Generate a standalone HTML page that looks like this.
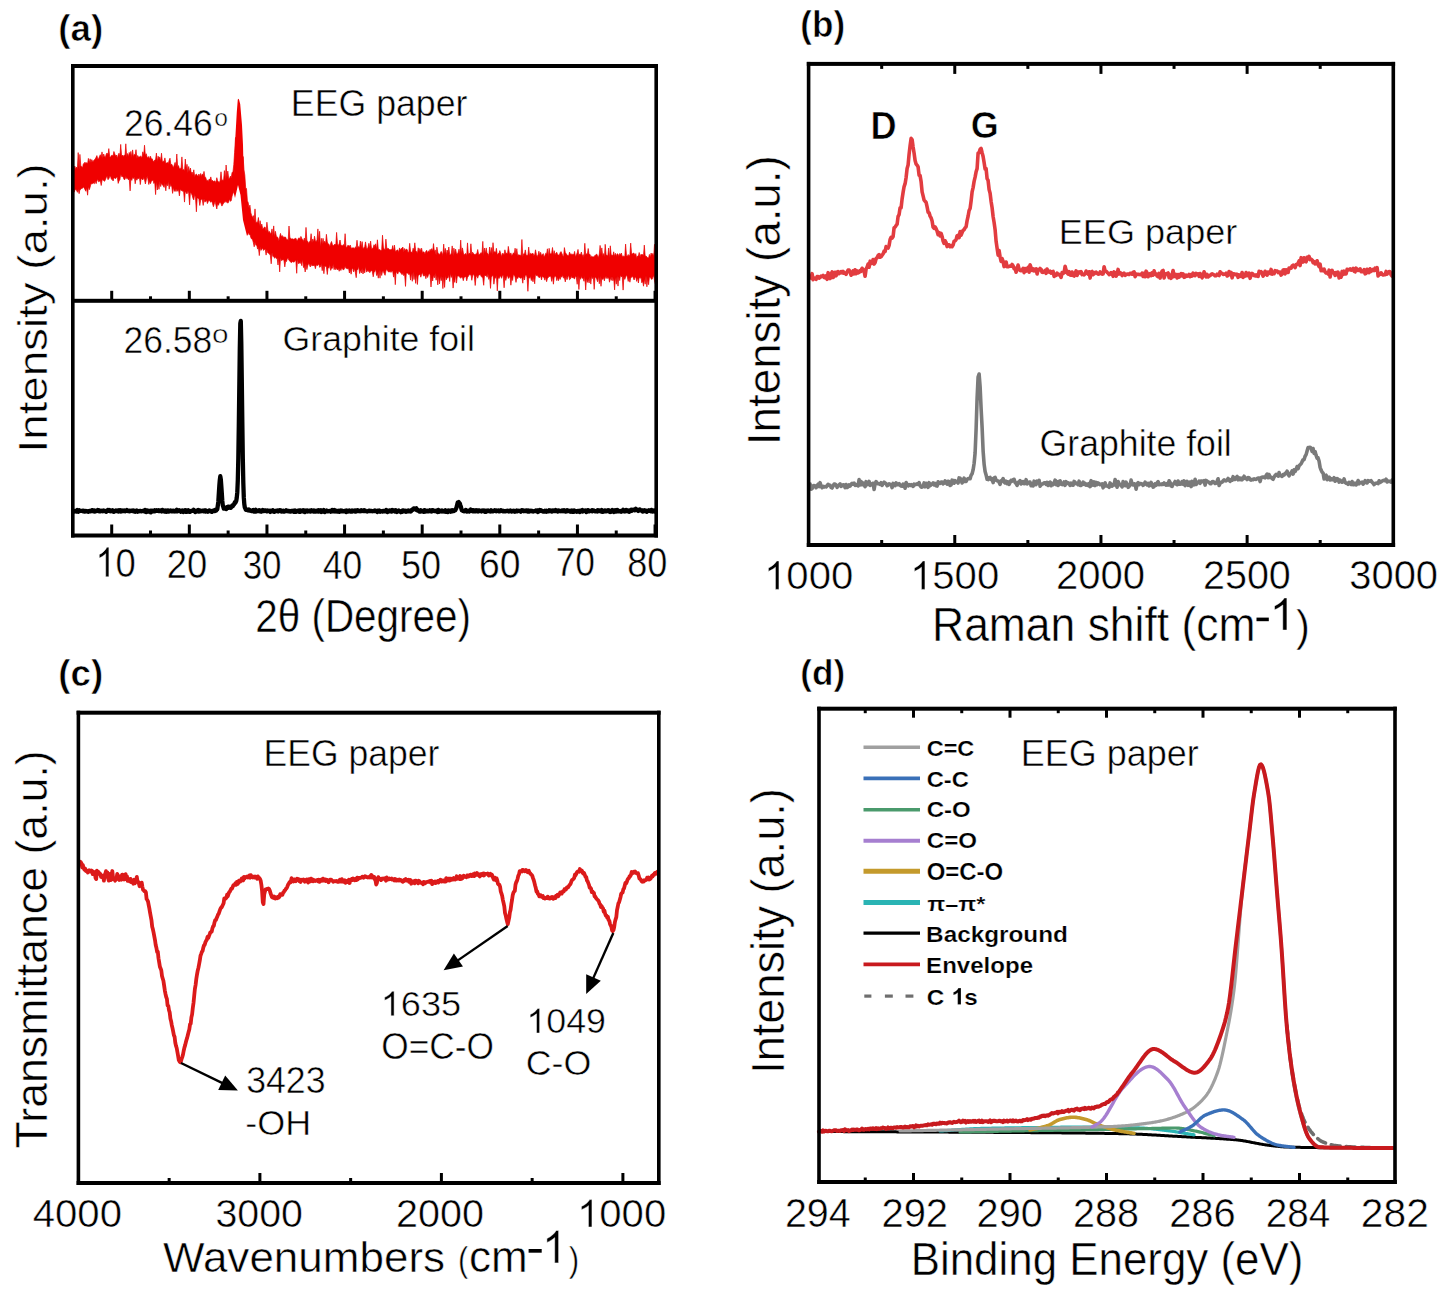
<!DOCTYPE html>
<html><head><meta charset="utf-8"><title>Figure</title>
<style>html,body{margin:0;padding:0;background:#fff;} svg{display:block;} text{font-family:"Liberation Sans",sans-serif;}</style>
</head><body>
<svg width="1451" height="1292" viewBox="0 0 1451 1292">
<rect width="1451" height="1292" fill="#fff"/>
<polygon points="74.0,169.1 74.8,166.0 75.7,169.4 76.5,167.0 77.4,168.9 78.2,152.6 79.1,169.6 79.9,154.4 80.8,165.9 81.6,166.4 82.5,168.0 83.3,163.9 84.2,163.2 85.0,162.2 85.9,163.6 86.7,162.6 87.6,163.8 88.4,158.4 89.3,162.7 90.1,158.8 91.0,162.5 91.8,159.6 92.7,161.8 93.5,161.0 94.4,159.7 95.2,159.0 96.1,157.3 96.9,155.6 97.8,159.1 98.6,158.7 99.5,156.3 100.3,154.7 101.2,157.0 102.0,151.9 102.9,157.9 103.7,154.0 104.6,157.1 105.4,157.2 106.3,154.0 107.1,153.0 108.0,155.1 108.8,148.6 109.7,156.7 110.5,157.3 111.4,155.4 112.2,155.4 113.1,155.8 113.9,151.5 114.8,153.9 115.6,156.1 116.5,155.0 117.3,158.6 118.2,154.9 119.0,153.2 119.9,156.7 120.7,144.4 121.6,155.9 122.4,155.0 123.3,156.9 124.1,155.0 125.0,155.7 125.8,143.8 126.7,157.2 127.5,153.5 128.4,156.8 129.2,152.4 130.1,154.8 130.9,151.4 131.8,157.6 132.6,149.9 133.5,156.7 134.3,154.5 135.2,154.8 136.0,149.7 136.9,158.6 137.7,155.5 138.6,157.3 139.4,156.9 140.3,156.2 141.1,156.4 142.0,157.4 142.8,151.8 143.7,155.6 144.5,145.2 145.4,155.8 146.2,153.7 147.1,157.1 147.9,157.9 148.8,156.4 149.6,159.2 150.5,156.2 151.3,158.9 152.2,158.8 153.0,160.7 153.9,162.0 154.7,160.0 155.6,159.6 156.4,153.1 157.3,161.8 158.1,156.2 159.0,159.1 159.8,156.9 160.7,161.3 161.5,153.2 162.4,162.1 163.2,161.3 164.1,161.4 164.9,157.9 165.8,163.2 166.6,163.1 167.5,162.5 168.3,163.5 169.2,160.2 170.0,158.2 170.9,164.9 171.7,164.1 172.6,166.1 173.4,167.7 174.3,164.8 175.1,162.4 176.0,166.6 176.8,154.0 177.7,167.2 178.5,165.6 179.4,168.8 180.2,168.4 181.1,168.3 181.9,156.9 182.8,169.9 183.6,169.4 184.5,170.9 185.3,159.0 186.2,169.7 187.0,164.3 187.9,173.0 188.7,166.5 189.6,172.1 190.4,168.0 191.3,173.4 192.1,172.0 193.0,174.9 193.8,169.8 194.7,176.7 195.5,174.7 196.4,174.0 197.2,175.6 198.1,176.3 198.9,174.0 199.8,176.7 200.6,173.5 201.5,176.4 202.3,173.9 203.2,175.8 204.0,171.4 204.9,177.2 205.7,177.4 206.6,180.5 207.4,180.2 208.3,181.6 209.1,179.1 210.0,179.8 210.8,176.9 211.7,181.2 212.5,180.3 213.4,181.6 214.2,180.9 215.1,181.3 215.9,182.4 216.8,177.7 217.6,180.7 218.5,181.8 219.3,182.8 220.2,180.3 221.0,171.8 221.9,180.6 222.7,180.0 223.6,180.2 224.4,170.6 225.3,180.2 226.1,165.0 227.0,177.7 227.8,171.1 228.7,178.6 229.5,178.6 230.4,176.1 231.2,178.2 232.1,172.3 232.9,172.4 233.8,164.5 234.6,152.3 235.5,137.4 235.5,166.0 234.6,172.1 233.8,191.5 232.9,193.8 232.1,196.1 231.2,200.8 230.4,201.3 229.5,198.9 228.7,201.9 227.8,203.2 227.0,201.6 226.1,202.5 225.3,200.8 224.4,202.5 223.6,203.0 222.7,204.7 221.9,206.1 221.0,203.6 220.2,202.5 219.3,202.7 218.5,205.3 217.6,203.7 216.8,209.0 215.9,205.0 215.1,201.3 214.2,204.1 213.4,206.7 212.5,203.5 211.7,201.1 210.8,202.2 210.0,201.5 209.1,200.0 208.3,201.5 207.4,203.6 206.6,200.5 205.7,201.1 204.9,202.2 204.0,198.6 203.2,205.4 202.3,199.7 201.5,199.1 200.6,200.6 199.8,205.5 198.9,199.1 198.1,197.9 197.2,198.0 196.4,211.8 195.5,197.8 194.7,194.3 193.8,199.9 193.0,198.4 192.1,195.1 191.3,193.5 190.4,191.9 189.6,204.9 188.7,193.6 187.9,190.7 187.0,193.9 186.2,192.7 185.3,190.9 184.5,202.1 183.6,191.2 182.8,191.3 181.9,190.6 181.1,190.5 180.2,189.6 179.4,195.9 178.5,189.3 177.7,191.3 176.8,189.1 176.0,191.6 175.1,189.2 174.3,191.4 173.4,187.2 172.6,193.4 171.7,185.6 170.9,186.5 170.0,183.5 169.2,189.2 168.3,181.2 167.5,185.8 166.6,183.4 165.8,190.8 164.9,183.0 164.1,187.4 163.2,185.7 162.4,185.0 161.5,183.1 160.7,186.6 159.8,180.9 159.0,189.3 158.1,183.4 157.3,190.0 156.4,180.8 155.6,194.6 154.7,181.7 153.9,183.5 153.0,180.1 152.2,180.6 151.3,181.5 150.5,183.7 149.6,181.3 148.8,184.5 147.9,178.9 147.1,176.3 146.2,180.2 145.4,184.0 144.5,179.8 143.7,177.6 142.8,180.0 142.0,178.9 141.1,178.4 140.3,184.6 139.4,177.0 138.6,178.8 137.7,177.9 136.9,180.2 136.0,178.2 135.2,183.8 134.3,176.7 133.5,178.5 132.6,177.5 131.8,180.4 130.9,178.7 130.1,190.9 129.2,178.3 128.4,179.9 127.5,178.0 126.7,178.7 125.8,176.6 125.0,179.4 124.1,179.6 123.3,177.4 122.4,176.5 121.6,176.6 120.7,174.0 119.9,179.7 119.0,180.9 118.2,183.4 117.3,177.1 116.5,177.3 115.6,178.7 114.8,177.9 113.9,178.0 113.1,181.0 112.2,178.9 111.4,179.3 110.5,176.2 109.7,176.5 108.8,178.8 108.0,179.7 107.1,176.0 106.3,177.5 105.4,179.7 104.6,181.3 103.7,180.7 102.9,179.4 102.0,180.8 101.2,185.5 100.3,180.7 99.5,181.3 98.6,181.8 97.8,179.2 96.9,181.0 96.1,183.7 95.2,180.8 94.4,183.7 93.5,183.0 92.7,183.5 91.8,183.9 91.0,183.6 90.1,187.3 89.3,189.7 88.4,186.4 87.6,195.2 86.7,187.4 85.9,191.3 85.0,189.7 84.2,187.9 83.3,186.9 82.5,188.2 81.6,188.5 80.8,189.3 79.9,189.8 79.1,193.7 78.2,189.2 77.4,192.3 76.5,190.0 75.7,189.4 74.8,190.5 74.0,192.2" fill="#f00000" stroke="#e80000" stroke-width="0.7" stroke-linejoin="round"/>
<polygon points="243.1,156.5 244.0,169.9 244.8,175.1 245.7,188.2 246.5,188.5 247.4,200.9 248.2,202.6 249.1,208.5 249.9,205.1 250.8,212.8 251.6,215.3 252.5,217.7 253.3,215.6 254.2,221.1 255.0,208.9 255.9,222.7 256.7,221.9 257.6,222.5 258.4,217.5 259.3,226.6 260.1,220.7 261.0,226.8 261.8,224.1 262.7,228.7 263.5,228.6 264.4,227.0 265.2,227.2 266.1,231.6 266.9,222.2 267.8,229.7 268.6,232.5 269.5,231.4 270.3,233.7 271.2,233.0 272.0,228.9 272.9,235.9 273.7,225.9 274.6,237.0 275.4,231.3 276.3,236.2 277.1,236.9 278.0,237.5 278.8,241.3 279.7,236.8 280.5,233.4 281.4,237.1 282.2,235.5 283.1,237.4 283.9,236.7 284.8,237.3 285.6,237.1 286.5,239.6 287.3,239.4 288.2,240.2 289.0,226.0 289.9,237.9 290.7,238.3 291.6,239.0 292.4,238.8 293.3,239.3 294.1,239.0 295.0,238.7 295.8,238.1 296.7,240.2 297.5,240.4 298.4,238.3 299.2,237.8 300.1,239.6 300.9,236.4 301.8,238.4 302.6,239.4 303.5,241.4 304.3,238.1 305.2,241.4 306.0,227.4 306.9,240.6 307.7,241.2 308.6,243.5 309.4,241.7 310.3,241.0 311.1,233.7 312.0,242.8 312.8,239.0 313.7,242.2 314.5,236.2 315.4,240.8 316.2,242.0 317.1,239.5 317.9,228.9 318.8,243.1 319.6,231.3 320.5,247.5 321.3,238.3 322.2,244.2 323.0,238.3 323.9,243.0 324.7,241.2 325.6,244.0 326.4,234.3 327.3,241.9 328.1,244.0 329.0,244.2 329.8,247.0 330.7,243.3 331.5,241.5 332.4,244.5 333.2,245.7 334.1,244.9 334.9,244.0 335.8,245.1 336.6,232.4 337.5,243.7 338.3,245.9 339.2,243.5 340.0,240.0 340.9,245.0 341.7,245.6 342.6,245.8 343.4,244.5 344.3,245.9 345.1,233.7 346.0,247.0 346.8,247.6 347.7,245.4 348.5,245.5 349.4,246.6 350.2,245.0 351.1,247.9 351.9,248.3 352.8,247.8 353.6,247.8 354.5,249.1 355.3,246.9 356.2,247.7 357.0,240.2 357.9,248.0 358.7,246.5 359.6,247.8 360.4,241.1 361.3,247.7 362.1,241.6 363.0,248.7 363.8,247.8 364.7,246.7 365.5,241.9 366.4,247.5 367.2,249.5 368.1,247.1 368.9,243.3 369.8,248.4 370.6,241.1 371.5,248.4 372.3,248.6 373.2,247.5 374.0,244.7 374.9,246.4 375.7,243.8 376.6,249.6 377.4,239.8 378.3,249.3 379.1,249.8 380.0,249.6 380.8,250.9 381.7,249.6 382.5,235.2 383.4,247.2 384.2,249.3 385.1,249.9 385.9,239.1 386.8,248.5 387.6,248.4 388.5,248.5 389.3,249.4 390.2,249.9 391.0,249.3 391.9,249.8 392.7,245.6 393.6,251.3 394.4,245.1 395.3,251.3 396.1,251.3 397.0,250.0 397.8,249.9 398.7,252.5 399.5,247.9 400.4,250.2 401.2,248.6 402.1,248.2 402.9,247.0 403.8,252.3 404.6,248.5 405.5,250.6 406.3,249.1 407.2,249.6 408.0,252.4 408.9,251.5 409.7,243.3 410.6,251.6 411.4,252.1 412.3,252.6 413.1,248.2 414.0,250.6 414.8,242.8 415.7,250.9 416.5,251.5 417.4,253.5 418.2,247.8 419.1,251.6 419.9,248.4 420.8,251.5 421.6,248.2 422.5,252.7 423.3,251.8 424.2,252.2 425.0,253.9 425.9,251.3 426.7,250.3 427.6,253.3 428.4,250.9 429.3,251.7 430.1,249.3 431.0,251.1 431.8,248.6 432.7,251.2 433.5,243.6 434.4,252.2 435.2,249.9 436.1,255.2 436.9,247.1 437.8,252.3 438.6,254.1 439.5,254.4 440.3,253.2 441.2,251.4 442.0,252.8 442.9,255.7 443.7,244.1 444.6,254.0 445.4,248.4 446.3,255.4 447.1,250.0 448.0,253.4 448.8,247.0 449.7,254.5 450.5,255.1 451.4,252.9 452.2,245.9 453.1,256.0 453.9,248.1 454.8,254.1 455.6,249.1 456.5,253.8 457.3,254.2 458.2,252.2 459.0,249.2 459.9,254.2 460.7,240.1 461.6,254.1 462.4,247.9 463.3,252.4 464.1,255.3 465.0,253.9 465.8,253.6 466.7,255.8 467.5,242.9 468.4,255.1 469.2,253.1 470.1,254.2 470.9,243.8 471.8,254.7 472.6,252.2 473.5,253.4 474.3,254.6 475.2,254.4 476.0,253.9 476.9,253.4 477.7,249.5 478.6,254.5 479.4,254.4 480.3,253.6 481.1,252.6 482.0,253.6 482.8,241.4 483.7,256.2 484.5,248.1 485.4,253.5 486.2,247.9 487.1,253.5 487.9,253.6 488.8,255.7 489.6,247.0 490.5,254.3 491.3,247.5 492.2,255.0 493.0,242.7 493.9,252.5 494.7,251.6 495.6,252.8 496.4,248.3 497.3,254.9 498.1,253.7 499.0,253.3 499.8,250.6 500.7,253.3 501.5,256.7 502.4,253.5 503.2,253.4 504.1,255.0 504.9,249.8 505.8,253.6 506.6,253.0 507.5,254.2 508.3,246.4 509.2,252.2 510.0,254.6 510.9,252.9 511.7,255.7 512.6,254.5 513.4,252.8 514.3,253.8 515.1,248.2 516.0,255.1 516.8,248.7 517.7,256.1 518.5,254.7 519.4,255.1 520.2,255.2 521.1,255.6 521.9,239.5 522.8,256.7 523.6,253.8 524.5,254.0 525.3,249.9 526.2,255.5 527.0,254.9 527.9,255.5 528.7,247.1 529.6,255.9 530.4,253.2 531.3,253.9 532.1,253.7 533.0,253.3 533.8,255.4 534.7,254.8 535.5,249.8 536.4,254.6 537.2,256.7 538.1,254.8 538.9,251.2 539.8,255.8 540.6,252.3 541.5,255.4 542.3,254.7 543.2,253.6 544.0,256.7 544.9,255.5 545.7,253.3 546.6,254.1 547.4,248.8 548.3,256.9 549.1,248.3 550.0,253.8 550.8,254.0 551.7,252.9 552.5,247.5 553.4,255.5 554.2,250.7 555.1,255.2 555.9,253.1 556.8,252.3 557.6,254.8 558.5,254.9 559.3,255.2 560.2,252.6 561.0,251.6 561.9,253.5 562.7,255.5 563.6,256.7 564.4,247.6 565.3,252.6 566.1,253.6 567.0,254.8 567.8,255.6 568.7,255.8 569.5,252.1 570.4,254.3 571.2,253.9 572.1,254.7 572.9,254.0 573.8,254.7 574.6,251.4 575.5,257.2 576.3,254.7 577.2,252.9 578.0,249.4 578.9,255.8 579.7,254.1 580.6,254.5 581.4,252.0 582.3,256.5 583.1,254.6 584.0,257.4 584.8,243.3 585.7,255.1 586.5,253.7 587.4,254.2 588.2,248.5 589.1,254.7 589.9,254.2 590.8,256.9 591.6,256.2 592.5,256.8 593.3,256.9 594.2,256.6 595.0,255.2 595.9,255.2 596.7,253.9 597.6,256.1 598.4,257.5 599.3,254.1 600.1,245.4 601.0,254.3 601.8,247.9 602.7,255.9 603.5,253.6 604.4,257.3 605.2,244.3 606.1,254.5 606.9,255.3 607.8,255.9 608.6,248.0 609.5,258.6 610.3,245.8 611.2,255.2 612.0,255.0 612.9,255.8 613.7,251.8 614.6,256.6 615.4,253.3 616.3,256.6 617.1,253.8 618.0,254.1 618.8,256.6 619.7,253.5 620.5,254.7 621.4,253.0 622.2,256.7 623.1,255.7 623.9,256.6 624.8,256.5 625.6,244.1 626.5,255.7 627.3,256.3 628.2,254.5 629.0,256.5 629.9,254.8 630.7,243.1 631.6,254.1 632.4,254.0 633.3,253.0 634.1,253.3 635.0,255.6 635.8,253.6 636.7,258.4 637.5,256.1 638.4,256.1 639.2,252.5 640.1,257.3 640.9,254.3 641.8,254.8 642.6,254.5 643.5,255.6 644.3,245.1 645.2,256.3 646.0,255.9 646.9,257.0 647.7,257.7 648.6,257.9 649.4,254.4 650.3,257.2 651.1,253.0 652.0,255.3 652.8,253.4 653.7,256.6 654.5,244.3 655.4,257.8 655.4,284.0 654.5,280.7 653.7,275.2 652.8,277.6 652.0,279.4 651.1,278.8 650.3,277.2 649.4,277.2 648.6,284.7 647.7,278.5 646.9,286.8 646.0,275.8 645.2,284.2 644.3,278.7 643.5,286.2 642.6,280.7 641.8,282.8 640.9,276.8 640.1,278.4 639.2,277.0 638.4,283.0 637.5,277.6 636.7,281.4 635.8,277.1 635.0,277.4 634.1,280.0 633.3,277.8 632.4,276.5 631.6,277.1 630.7,278.0 629.9,282.2 629.0,277.7 628.2,281.4 627.3,276.9 626.5,274.7 625.6,277.3 624.8,279.4 623.9,276.7 623.1,290.1 622.2,276.1 621.4,277.0 620.5,274.9 619.7,280.6 618.8,276.8 618.0,286.1 617.1,276.0 616.3,284.2 615.4,276.7 614.6,289.9 613.7,278.1 612.9,280.8 612.0,276.6 611.2,280.4 610.3,277.5 609.5,282.2 608.6,277.0 607.8,278.6 606.9,276.4 606.1,278.6 605.2,276.0 604.4,280.9 603.5,277.6 602.7,279.5 601.8,278.2 601.0,286.3 600.1,276.3 599.3,283.8 598.4,276.1 597.6,281.8 596.7,279.1 595.9,277.4 595.0,277.0 594.2,289.4 593.3,276.8 592.5,278.6 591.6,276.3 590.8,284.1 589.9,277.1 589.1,283.0 588.2,278.8 587.4,282.4 586.5,277.8 585.7,290.0 584.8,276.1 584.0,281.3 583.1,278.0 582.3,278.3 581.4,276.6 580.6,279.3 579.7,277.0 578.9,289.5 578.0,275.0 577.2,284.3 576.3,277.3 575.5,275.8 574.6,278.9 573.8,278.4 572.9,277.0 572.1,278.1 571.2,276.3 570.4,279.0 569.5,279.8 568.7,274.9 567.8,277.3 567.0,279.7 566.1,276.1 565.3,281.9 564.4,277.7 563.6,278.1 562.7,275.1 561.9,277.3 561.0,275.9 560.2,279.4 559.3,277.2 558.5,280.7 557.6,277.3 556.8,280.7 555.9,275.9 555.1,276.4 554.2,277.0 553.4,284.2 552.5,276.1 551.7,281.4 550.8,276.1 550.0,276.6 549.1,276.3 548.3,277.6 547.4,278.6 546.6,281.7 545.7,276.4 544.9,280.2 544.0,277.5 543.2,277.0 542.3,276.3 541.5,279.9 540.6,275.4 539.8,277.5 538.9,277.5 538.1,276.6 537.2,275.2 536.4,275.7 535.5,273.7 534.7,283.8 533.8,276.7 533.0,281.8 532.1,278.5 531.3,280.6 530.4,276.2 529.6,278.1 528.7,278.0 527.9,291.3 527.0,277.1 526.2,275.1 525.3,275.2 524.5,280.0 523.6,275.5 522.8,283.2 521.9,277.4 521.1,277.9 520.2,278.2 519.4,277.3 518.5,276.7 517.7,278.6 516.8,277.6 516.0,282.4 515.1,277.0 514.3,275.0 513.4,274.7 512.6,280.5 511.7,277.6 510.9,285.2 510.0,276.0 509.2,277.5 508.3,278.5 507.5,275.3 506.6,277.1 505.8,280.4 504.9,276.9 504.1,287.8 503.2,275.6 502.4,275.5 501.5,278.3 500.7,275.7 499.8,276.8 499.0,278.6 498.1,276.9 497.3,290.9 496.4,275.0 495.6,278.1 494.7,278.4 493.9,284.2 493.0,274.9 492.2,275.9 491.3,277.5 490.5,288.4 489.6,276.5 488.8,279.4 487.9,273.4 487.1,277.3 486.2,274.9 485.4,276.0 484.5,275.1 483.7,285.3 482.8,278.1 482.0,277.3 481.1,276.3 480.3,274.4 479.4,274.9 478.6,275.0 477.7,278.2 476.9,275.0 476.0,277.3 475.2,285.5 474.3,276.2 473.5,273.7 472.6,275.9 471.8,280.3 470.9,274.0 470.1,275.3 469.2,274.3 468.4,276.2 467.5,277.4 466.7,280.8 465.8,275.9 465.0,277.2 464.1,276.9 463.3,280.7 462.4,277.0 461.6,277.1 460.7,278.3 459.9,277.1 459.0,276.6 458.2,275.8 457.3,276.2 456.5,283.1 455.6,273.8 454.8,282.4 453.9,278.9 453.1,288.1 452.2,275.3 451.4,277.4 450.5,273.3 449.7,281.5 448.8,274.8 448.0,277.9 447.1,277.7 446.3,279.9 445.4,275.3 444.6,287.4 443.7,275.8 442.9,288.6 442.0,276.2 441.2,280.7 440.3,276.1 439.5,283.9 438.6,275.3 437.8,284.9 436.9,275.0 436.1,280.2 435.2,273.3 434.4,277.8 433.5,275.1 432.7,281.0 431.8,277.4 431.0,287.0 430.1,275.1 429.3,272.9 428.4,275.1 427.6,277.5 426.7,274.4 425.9,278.7 425.0,274.6 424.2,276.1 423.3,275.8 422.5,272.2 421.6,274.6 420.8,277.2 419.9,273.7 419.1,275.0 418.2,275.5 417.4,284.5 416.5,273.0 415.7,283.4 414.8,274.0 414.0,279.6 413.1,271.7 412.3,281.3 411.4,272.5 410.6,280.1 409.7,273.4 408.9,274.7 408.0,273.2 407.2,273.1 406.3,273.0 405.5,286.4 404.6,273.9 403.8,275.7 402.9,272.7 402.1,274.7 401.2,273.5 400.4,272.5 399.5,271.7 398.7,271.2 397.8,274.1 397.0,273.1 396.1,270.9 395.3,284.7 394.4,271.9 393.6,277.1 392.7,271.2 391.9,270.7 391.0,272.4 390.2,271.2 389.3,271.9 388.5,272.0 387.6,270.7 386.8,269.3 385.9,270.9 385.1,275.3 384.2,273.5 383.4,271.6 382.5,271.3 381.7,275.5 380.8,270.4 380.0,278.2 379.1,270.3 378.3,278.2 377.4,273.2 376.6,275.5 375.7,269.0 374.9,271.4 374.0,272.6 373.2,276.8 372.3,271.6 371.5,270.8 370.6,271.1 369.8,272.7 368.9,270.5 368.1,271.7 367.2,270.0 366.4,272.1 365.5,266.3 364.7,272.9 363.8,270.1 363.0,274.0 362.1,268.6 361.3,273.0 360.4,269.9 359.6,273.5 358.7,266.0 357.9,269.6 357.0,269.3 356.2,277.7 355.3,272.3 354.5,268.6 353.6,271.9 352.8,267.8 351.9,269.4 351.1,274.2 350.2,268.9 349.4,273.0 348.5,267.9 347.7,269.0 346.8,268.2 346.0,268.4 345.1,265.9 344.3,268.9 343.4,270.1 342.6,268.9 341.7,267.8 340.9,270.5 340.0,268.5 339.2,271.3 338.3,268.4 337.5,269.9 336.6,267.7 335.8,269.8 334.9,267.1 334.1,269.7 333.2,264.3 332.4,268.3 331.5,268.0 330.7,270.4 329.8,264.2 329.0,268.3 328.1,266.9 327.3,274.5 326.4,267.1 325.6,266.3 324.7,265.9 323.9,273.7 323.0,264.9 322.2,270.7 321.3,263.5 320.5,266.7 319.6,267.3 318.8,263.9 317.9,265.1 317.1,265.8 316.2,264.8 315.4,268.7 314.5,265.1 313.7,266.0 312.8,265.1 312.0,266.1 311.1,263.8 310.3,267.0 309.4,264.6 308.6,263.6 307.7,265.8 306.9,269.6 306.0,263.7 305.2,272.0 304.3,266.0 303.5,267.6 302.6,258.9 301.8,265.7 300.9,261.6 300.1,263.6 299.2,262.7 298.4,263.7 297.5,259.1 296.7,273.3 295.8,259.8 295.0,261.1 294.1,262.2 293.3,261.9 292.4,261.5 291.6,262.6 290.7,262.2 289.9,261.0 289.0,260.4 288.2,258.6 287.3,258.6 286.5,261.5 285.6,261.3 284.8,266.9 283.9,260.1 283.1,259.7 282.2,260.1 281.4,260.7 280.5,257.3 279.7,271.9 278.8,257.5 278.0,265.0 277.1,257.9 276.3,258.6 275.4,256.7 274.6,258.3 273.7,256.3 272.9,256.5 272.0,252.6 271.2,263.8 270.3,255.0 269.5,254.2 268.6,253.3 267.8,252.9 266.9,249.8 266.1,255.1 265.2,249.0 264.4,249.5 263.5,250.4 262.7,248.3 261.8,248.9 261.0,250.4 260.1,246.9 259.3,255.6 258.4,247.4 257.6,249.1 256.7,245.0 255.9,245.3 255.0,242.3 254.2,246.8 253.3,242.5 252.5,239.5 251.6,239.0 250.8,237.6 249.9,233.9 249.1,234.8 248.2,226.6 247.4,223.1 246.5,217.3 245.7,214.5 244.8,202.4 244.0,198.5 243.1,180.2" fill="#f00000" stroke="#e80000" stroke-width="0.7" stroke-linejoin="round"/>
<polygon points="233,190 234.3,171 235.4,136.5 236.8,112 237.8,99.5 238.8,98.7 240.2,104 242,125 243,145 243.6,171 246.5,206 251,229.4 247,236 243,220 240.5,195 238,185 235,198" fill="#f00000"/>
<polyline points="74.30,511.50 74.80,510.98 75.30,510.83 75.80,510.79 76.30,511.66 76.80,511.64 77.30,510.04 77.80,510.58 78.30,511.80 78.80,510.83 79.30,510.39 79.80,511.00 80.30,510.95 80.80,510.95 81.30,510.78 81.80,510.86 82.30,510.79 82.80,511.15 83.30,510.63 83.80,510.87 84.30,510.93 84.80,511.58 85.30,511.17 85.80,510.95 86.30,511.24 86.80,511.18 87.30,511.49 87.80,511.22 88.30,511.80 88.80,511.60 89.30,510.98 89.80,510.81 90.30,511.39 90.80,511.23 91.30,510.95 91.80,510.33 92.30,510.17 92.80,511.15 93.30,511.34 93.80,511.36 94.30,510.42 94.80,511.46 95.30,510.76 95.80,511.17 96.30,511.18 96.80,510.64 97.30,510.73 97.80,510.06 98.30,510.58 98.80,510.19 99.30,511.19 99.80,511.02 100.30,511.41 100.80,511.16 101.30,510.71 101.80,511.15 102.30,510.82 102.80,511.27 103.30,511.14 103.80,510.55 104.30,511.00 104.80,511.02 105.30,510.86 105.80,511.40 106.30,511.77 106.80,510.83 107.30,510.84 107.80,509.98 108.30,510.94 108.80,510.80 109.30,510.02 109.80,511.13 110.30,511.26 110.80,510.67 111.30,510.83 111.80,510.56 112.30,511.34 112.80,510.31 113.30,510.85 113.80,511.87 114.30,511.02 114.80,511.21 115.30,510.93 115.80,510.47 116.30,510.98 116.80,511.18 117.30,510.54 117.80,511.15 118.30,511.56 118.80,511.48 119.30,510.28 119.80,510.56 120.30,510.27 120.80,511.48 121.30,511.27 121.80,511.31 122.30,510.60 122.80,510.47 123.30,511.03 123.80,511.04 124.30,510.61 124.80,511.06 125.30,511.28 125.80,511.10 126.30,510.53 126.80,510.04 127.30,510.88 127.80,511.07 128.30,510.88 128.80,510.80 129.30,510.68 129.80,511.32 130.30,510.97 130.80,511.05 131.30,510.56 131.80,510.71 132.30,511.07 132.80,510.54 133.30,510.43 133.80,510.85 134.30,511.53 134.80,511.08 135.30,511.65 135.80,510.93 136.30,510.85 136.80,510.37 137.30,510.73 137.80,511.64 138.30,511.14 138.80,511.32 139.30,511.31 139.80,510.99 140.30,510.90 140.80,511.05 141.30,511.29 141.80,511.20 142.30,511.21 142.80,511.06 143.30,510.65 143.80,510.87 144.30,510.57 144.80,511.44 145.30,510.05 145.80,510.89 146.30,512.07 146.80,510.84 147.30,510.48 147.80,510.98 148.30,511.57 148.80,510.92 149.30,511.27 149.80,511.04 150.30,510.82 150.80,512.41 151.30,511.02 151.80,510.75 152.30,510.77 152.80,511.16 153.30,511.17 153.80,511.34 154.30,511.05 154.80,510.35 155.30,511.23 155.80,510.85 156.30,510.86 156.80,510.32 157.30,510.73 157.80,510.66 158.30,510.97 158.80,510.33 159.30,511.01 159.80,511.04 160.30,510.48 160.80,510.71 161.30,510.60 161.80,511.40 162.30,509.85 162.80,510.83 163.30,510.24 163.80,510.79 164.30,511.37 164.80,510.70 165.30,511.05 165.80,510.61 166.30,511.86 166.80,511.40 167.30,511.49 167.80,510.39 168.30,510.49 168.80,511.47 169.30,510.90 169.80,510.87 170.30,511.13 170.80,510.42 171.30,511.33 171.80,510.99 172.30,511.20 172.80,510.68 173.30,511.21 173.80,510.67 174.30,511.41 174.80,511.49 175.30,511.39 175.80,511.21 176.30,511.27 176.80,509.76 177.30,511.36 177.80,510.86 178.30,511.02 178.80,510.85 179.30,510.35 179.80,510.74 180.30,511.27 180.80,511.62 181.30,510.70 181.80,510.57 182.30,511.63 182.80,510.58 183.30,511.91 183.80,511.00 184.30,510.58 184.80,511.42 185.30,511.73 185.80,510.33 186.30,511.67 186.80,510.84 187.30,511.64 187.80,510.80 188.30,510.26 188.80,511.19 189.30,511.38 189.80,511.91 190.30,511.74 190.80,511.28 191.30,510.86 191.80,510.73 192.30,510.83 192.80,510.59 193.30,510.84 193.80,509.81 194.30,511.04 194.80,510.94 195.30,512.11 195.80,511.29 196.30,510.74 196.80,511.20 197.30,510.40 197.80,510.68 198.30,510.10 198.80,511.59 199.30,511.21 199.80,510.41 200.30,510.91 200.80,511.36 201.30,511.16 201.80,511.10 202.30,510.54 202.80,510.64 203.30,510.96 203.80,511.33 204.30,510.54 204.80,510.40 205.30,511.42 205.80,510.48 206.30,511.38 206.80,511.00 207.30,511.28 207.80,511.66 208.30,511.18 208.80,511.21 209.30,510.44 209.80,510.53 210.30,511.12 210.80,511.50 211.30,511.42 211.80,511.82 212.30,510.90 212.80,510.82 213.30,511.15 213.80,510.67 214.30,510.59 214.80,510.09 215.30,510.94 215.80,509.90 216.30,510.40 216.80,509.06 217.30,509.07 217.80,505.67 218.30,501.96 218.80,493.94 219.30,486.22 219.80,479.95 220.30,476.23 220.80,479.28 221.30,485.87 221.80,493.11 222.30,501.01 222.80,505.42 223.30,506.95 223.80,508.60 224.30,508.22 224.80,508.09 225.30,508.41 225.80,507.93 226.30,509.09 226.80,507.19 227.30,508.07 227.80,508.06 228.30,506.63 228.80,506.68 229.30,507.67 229.80,507.18 230.30,507.55 230.80,507.84 231.30,507.04 231.80,506.51 232.30,505.41 232.80,506.21 233.30,505.03 233.80,504.78 234.30,503.86 234.80,502.27 235.30,502.88 235.80,501.83 236.30,500.65 236.80,497.41 237.30,492.21 237.80,480.34 238.30,459.02 238.80,426.36 239.30,387.05 239.80,348.35 240.30,323.42 240.80,320.96 241.30,343.63 241.80,380.97 242.30,421.32 242.80,457.67 243.30,482.56 243.80,497.44 244.30,504.13 244.80,507.37 245.30,508.51 245.80,509.67 246.30,509.45 246.80,509.57 247.30,509.65 247.80,510.35 248.30,509.95 248.80,509.52 249.30,510.63 249.80,510.09 250.30,510.62 250.80,510.68 251.30,511.09 251.80,511.06 252.30,510.36 252.80,510.57 253.30,510.09 253.80,511.45 254.30,510.91 254.80,511.36 255.30,510.61 255.80,509.84 256.30,511.47 256.80,510.83 257.30,510.86 257.80,510.84 258.30,511.11 258.80,511.07 259.30,510.13 259.80,511.34 260.30,510.62 260.80,510.65 261.30,511.65 261.80,511.29 262.30,510.73 262.80,510.05 263.30,510.96 263.80,511.14 264.30,510.86 264.80,510.34 265.30,510.55 265.80,510.35 266.30,511.01 266.80,511.29 267.30,511.38 267.80,510.59 268.30,511.03 268.80,511.18 269.30,510.70 269.80,510.87 270.30,511.89 270.80,511.03 271.30,511.34 271.80,510.74 272.30,510.96 272.80,510.17 273.30,510.93 273.80,511.48 274.30,511.89 274.80,511.49 275.30,511.26 275.80,510.98 276.30,510.68 276.80,510.88 277.30,511.23 277.80,510.60 278.30,511.38 278.80,510.52 279.30,510.16 279.80,510.51 280.30,510.21 280.80,510.35 281.30,511.47 281.80,510.88 282.30,511.06 282.80,511.49 283.30,511.53 283.80,510.74 284.30,511.57 284.80,511.14 285.30,510.97 285.80,511.17 286.30,510.33 286.80,510.62 287.30,510.92 287.80,511.25 288.30,510.81 288.80,510.92 289.30,511.41 289.80,511.61 290.30,511.32 290.80,511.55 291.30,510.79 291.80,510.84 292.30,511.12 292.80,510.84 293.30,510.75 293.80,511.72 294.30,510.89 294.80,510.54 295.30,511.20 295.80,511.81 296.30,511.02 296.80,511.54 297.30,510.78 297.80,510.76 298.30,510.67 298.80,510.92 299.30,511.81 299.80,510.46 300.30,511.72 300.80,510.53 301.30,510.88 301.80,511.36 302.30,511.27 302.80,511.11 303.30,510.24 303.80,511.15 304.30,510.52 304.80,512.14 305.30,510.89 305.80,511.07 306.30,510.47 306.80,510.77 307.30,510.41 307.80,511.43 308.30,510.87 308.80,511.24 309.30,510.68 309.80,510.76 310.30,511.57 310.80,510.55 311.30,510.18 311.80,511.17 312.30,510.47 312.80,510.79 313.30,511.40 313.80,510.62 314.30,511.38 314.80,510.68 315.30,511.66 315.80,511.59 316.30,510.78 316.80,510.89 317.30,510.62 317.80,511.08 318.30,511.51 318.80,510.34 319.30,511.40 319.80,510.39 320.30,510.60 320.80,510.19 321.30,511.94 321.80,511.02 322.30,511.10 322.80,510.69 323.30,511.47 323.80,510.04 324.30,511.00 324.80,511.98 325.30,510.82 325.80,511.00 326.30,511.29 326.80,510.63 327.30,511.00 327.80,511.42 328.30,511.08 328.80,511.16 329.30,510.83 329.80,511.13 330.30,511.02 330.80,511.65 331.30,511.32 331.80,510.88 332.30,509.89 332.80,511.31 333.30,511.33 333.80,510.58 334.30,510.09 334.80,510.48 335.30,511.41 335.80,510.51 336.30,510.79 336.80,511.09 337.30,511.54 337.80,510.99 338.30,510.95 338.80,510.75 339.30,511.73 339.80,511.47 340.30,510.95 340.80,510.37 341.30,510.64 341.80,511.25 342.30,510.67 342.80,511.40 343.30,511.16 343.80,511.13 344.30,511.29 344.80,511.22 345.30,510.61 345.80,510.85 346.30,512.05 346.80,510.45 347.30,510.78 347.80,511.47 348.30,510.92 348.80,510.63 349.30,510.40 349.80,511.24 350.30,511.45 350.80,511.62 351.30,511.02 351.80,511.47 352.30,510.53 352.80,511.07 353.30,510.69 353.80,511.07 354.30,511.33 354.80,511.48 355.30,510.55 355.80,511.57 356.30,510.78 356.80,510.53 357.30,510.92 357.80,510.34 358.30,511.00 358.80,511.13 359.30,510.91 359.80,511.24 360.30,510.85 360.80,511.00 361.30,510.35 361.80,511.01 362.30,510.61 362.80,510.79 363.30,510.95 363.80,511.08 364.30,510.25 364.80,510.29 365.30,510.86 365.80,511.21 366.30,511.16 366.80,511.40 367.30,511.58 367.80,511.22 368.30,510.99 368.80,510.53 369.30,510.57 369.80,510.79 370.30,511.12 370.80,511.10 371.30,511.00 371.80,510.93 372.30,511.28 372.80,511.09 373.30,511.13 373.80,511.14 374.30,510.75 374.80,510.53 375.30,511.22 375.80,511.18 376.30,510.90 376.80,510.81 377.30,512.02 377.80,510.66 378.30,510.90 378.80,511.12 379.30,510.48 379.80,511.05 380.30,511.81 380.80,511.42 381.30,511.28 381.80,511.26 382.30,511.05 382.80,511.43 383.30,510.93 383.80,510.81 384.30,511.04 384.80,511.40 385.30,511.15 385.80,511.30 386.30,510.09 386.80,511.53 387.30,512.05 387.80,511.60 388.30,510.85 388.80,510.62 389.30,511.12 389.80,510.55 390.30,511.32 390.80,510.76 391.30,511.43 391.80,511.61 392.30,510.08 392.80,511.13 393.30,510.68 393.80,510.36 394.30,510.72 394.80,510.90 395.30,511.46 395.80,510.31 396.30,511.47 396.80,511.91 397.30,511.27 397.80,511.24 398.30,510.99 398.80,510.47 399.30,511.24 399.80,511.17 400.30,511.33 400.80,512.15 401.30,511.33 401.80,511.19 402.30,511.70 402.80,510.39 403.30,510.48 403.80,510.83 404.30,510.70 404.80,511.31 405.30,510.85 405.80,511.78 406.30,511.68 406.80,511.34 407.30,510.82 407.80,511.27 408.30,511.35 408.80,510.50 409.30,511.11 409.80,511.23 410.30,510.94 410.80,511.43 411.30,511.09 411.80,509.93 412.30,510.05 412.80,509.26 413.30,509.52 413.80,508.52 414.30,509.06 414.80,508.69 415.30,508.96 415.80,508.62 416.30,508.32 416.80,510.13 417.30,509.63 417.80,510.68 418.30,510.55 418.80,510.89 419.30,511.57 419.80,511.01 420.30,511.55 420.80,510.29 421.30,511.37 421.80,510.88 422.30,510.93 422.80,511.00 423.30,511.15 423.80,511.74 424.30,510.16 424.80,511.02 425.30,510.68 425.80,511.52 426.30,510.81 426.80,511.20 427.30,510.82 427.80,511.30 428.30,511.45 428.80,510.82 429.30,511.02 429.80,510.36 430.30,511.14 430.80,511.38 431.30,510.75 431.80,511.50 432.30,510.07 432.80,510.17 433.30,510.37 433.80,510.78 434.30,511.01 434.80,510.96 435.30,510.97 435.80,511.32 436.30,510.79 436.80,510.43 437.30,510.44 437.80,511.95 438.30,509.94 438.80,510.92 439.30,511.65 439.80,511.22 440.30,510.63 440.80,511.00 441.30,511.39 441.80,511.54 442.30,510.59 442.80,511.34 443.30,511.11 443.80,511.50 444.30,511.62 444.80,510.84 445.30,510.35 445.80,511.18 446.30,511.80 446.80,511.31 447.30,511.10 447.80,512.08 448.30,510.53 448.80,511.40 449.30,510.74 449.80,511.02 450.30,511.04 450.80,511.68 451.30,510.58 451.80,510.76 452.30,510.28 452.80,511.21 453.30,510.76 453.80,511.09 454.30,510.27 454.80,510.30 455.30,510.39 455.80,508.97 456.30,508.08 456.80,506.46 457.30,504.37 457.80,502.35 458.30,502.60 458.80,502.15 459.30,503.26 459.80,503.30 460.30,505.14 460.80,506.54 461.30,508.44 461.80,510.25 462.30,510.63 462.80,510.70 463.30,510.94 463.80,511.30 464.30,510.85 464.80,511.17 465.30,511.06 465.80,510.01 466.30,510.83 466.80,511.61 467.30,510.82 467.80,510.93 468.30,510.73 468.80,510.78 469.30,511.50 469.80,510.88 470.30,510.54 470.80,509.60 471.30,510.74 471.80,510.11 472.30,510.18 472.80,511.36 473.30,511.32 473.80,510.14 474.30,511.38 474.80,511.21 475.30,510.65 475.80,511.33 476.30,510.27 476.80,510.46 477.30,510.35 477.80,510.50 478.30,511.39 478.80,510.40 479.30,510.48 479.80,510.57 480.30,511.09 480.80,510.85 481.30,511.39 481.80,510.68 482.30,510.42 482.80,510.77 483.30,511.01 483.80,510.58 484.30,511.12 484.80,511.81 485.30,510.73 485.80,511.02 486.30,511.60 486.80,510.70 487.30,510.61 487.80,510.50 488.30,511.17 488.80,511.22 489.30,510.93 489.80,511.01 490.30,511.56 490.80,511.38 491.30,510.36 491.80,510.99 492.30,511.04 492.80,511.31 493.30,510.89 493.80,510.70 494.30,510.78 494.80,510.19 495.30,510.98 495.80,510.72 496.30,511.20 496.80,510.52 497.30,510.79 497.80,510.54 498.30,510.51 498.80,511.30 499.30,510.77 499.80,511.18 500.30,510.48 500.80,511.03 501.30,510.22 501.80,510.77 502.30,510.76 502.80,511.24 503.30,511.06 503.80,510.90 504.30,511.36 504.80,511.07 505.30,511.22 505.80,511.32 506.30,510.95 506.80,510.85 507.30,511.13 507.80,510.79 508.30,511.15 508.80,511.48 509.30,511.36 509.80,510.81 510.30,510.40 510.80,510.95 511.30,510.92 511.80,511.48 512.30,510.81 512.80,510.88 513.30,511.31 513.80,510.76 514.30,510.91 514.80,511.75 515.30,511.65 515.80,511.26 516.30,511.10 516.80,510.54 517.30,511.23 517.80,511.00 518.30,511.08 518.80,510.75 519.30,510.97 519.80,510.90 520.30,511.12 520.80,511.62 521.30,511.14 521.80,510.23 522.30,510.54 522.80,510.27 523.30,510.62 523.80,511.23 524.30,511.16 524.80,510.71 525.30,511.10 525.80,510.64 526.30,510.34 526.80,510.35 527.30,510.59 527.80,511.62 528.30,510.38 528.80,511.54 529.30,511.57 529.80,510.90 530.30,510.96 530.80,510.70 531.30,510.97 531.80,511.27 532.30,510.98 532.80,511.42 533.30,511.51 533.80,511.13 534.30,511.12 534.80,510.95 535.30,511.13 535.80,510.48 536.30,511.16 536.80,511.07 537.30,510.59 537.80,511.94 538.30,510.54 538.80,510.59 539.30,511.10 539.80,510.11 540.30,510.62 540.80,510.29 541.30,510.54 541.80,510.92 542.30,511.12 542.80,511.47 543.30,511.34 543.80,511.51 544.30,511.24 544.80,510.76 545.30,511.48 545.80,510.76 546.30,510.70 546.80,511.66 547.30,511.33 547.80,511.07 548.30,511.31 548.80,511.37 549.30,510.36 549.80,510.93 550.30,510.44 550.80,511.03 551.30,510.67 551.80,511.59 552.30,511.21 552.80,510.61 553.30,510.97 553.80,510.43 554.30,510.99 554.80,511.22 555.30,511.09 555.80,510.11 556.30,510.82 556.80,511.20 557.30,511.11 557.80,511.50 558.30,510.40 558.80,511.21 559.30,510.68 559.80,511.06 560.30,511.16 560.80,511.28 561.30,510.71 561.80,511.06 562.30,510.45 562.80,510.34 563.30,511.22 563.80,510.95 564.30,510.25 564.80,510.59 565.30,510.98 565.80,511.67 566.30,511.44 566.80,511.33 567.30,510.17 567.80,510.93 568.30,511.19 568.80,511.15 569.30,511.16 569.80,510.87 570.30,511.76 570.80,511.64 571.30,510.93 571.80,510.53 572.30,511.90 572.80,510.72 573.30,511.51 573.80,511.83 574.30,510.55 574.80,511.10 575.30,510.82 575.80,511.20 576.30,511.12 576.80,511.85 577.30,511.24 577.80,510.97 578.30,511.48 578.80,510.85 579.30,510.81 579.80,511.98 580.30,510.60 580.80,510.75 581.30,510.99 581.80,510.50 582.30,510.02 582.80,511.45 583.30,510.62 583.80,510.73 584.30,510.81 584.80,510.53 585.30,510.49 585.80,511.05 586.30,512.05 586.80,511.30 587.30,511.31 587.80,510.30 588.30,510.96 588.80,510.44 589.30,511.32 589.80,510.87 590.30,510.99 590.80,510.93 591.30,510.71 591.80,510.29 592.30,511.23 592.80,510.35 593.30,510.44 593.80,510.84 594.30,510.66 594.80,511.09 595.30,511.43 595.80,511.08 596.30,511.06 596.80,510.98 597.30,511.36 597.80,510.14 598.30,511.14 598.80,510.55 599.30,510.42 599.80,510.98 600.30,510.80 600.80,511.24 601.30,511.47 601.80,509.93 602.30,510.94 602.80,511.85 603.30,511.36 603.80,511.62 604.30,511.02 604.80,510.33 605.30,510.47 605.80,511.29 606.30,511.40 606.80,510.64 607.30,510.85 607.80,511.09 608.30,510.19 608.80,510.82 609.30,511.70 609.80,511.96 610.30,510.92 610.80,511.80 611.30,510.74 611.80,510.61 612.30,509.97 612.80,511.40 613.30,510.80 613.80,512.03 614.30,511.12 614.80,511.06 615.30,510.16 615.80,511.65 616.30,510.81 616.80,510.90 617.30,509.98 617.80,511.39 618.30,511.42 618.80,510.70 619.30,511.02 619.80,511.15 620.30,511.41 620.80,511.02 621.30,511.75 621.80,510.86 622.30,510.70 622.80,510.76 623.30,509.83 623.80,510.61 624.30,511.43 624.80,511.09 625.30,510.60 625.80,511.13 626.30,510.06 626.80,510.83 627.30,511.19 627.80,511.25 628.30,510.57 628.80,511.30 629.30,511.69 629.80,510.61 630.30,511.06 630.80,509.94 631.30,509.65 631.80,510.69 632.30,510.29 632.80,510.22 633.30,509.71 633.80,509.70 634.30,510.06 634.80,510.36 635.30,509.42 635.80,508.74 636.30,510.06 636.80,509.80 637.30,509.92 637.80,509.81 638.30,510.90 638.80,510.04 639.30,510.39 639.80,509.47 640.30,510.18 640.80,510.25 641.30,510.65 641.80,510.90 642.30,510.47 642.80,511.64 643.30,510.42 643.80,510.72 644.30,511.05 644.80,510.39 645.30,511.22 645.80,511.25 646.30,510.84 646.80,511.83 647.30,511.01 647.80,511.10 648.30,510.54 648.80,510.22 649.30,510.69 649.80,510.83 650.30,510.77 650.80,511.32 651.30,509.90 651.80,510.47 652.30,510.15 652.80,511.58 653.30,510.72 653.80,510.74 654.30,510.48 654.80,511.38" fill="none" stroke="#000" stroke-width="4.3" stroke-linejoin="round" stroke-linecap="round"/>
<rect x="71.00" y="64.00" width="587.00" height="4.00" fill="#000"/>
<rect x="71.00" y="533.50" width="587.00" height="4.00" fill="#000"/>
<rect x="71.00" y="64.00" width="3.60" height="473.50" fill="#000"/>
<rect x="654.40" y="64.00" width="3.60" height="473.50" fill="#000"/>
<rect x="72.80" y="298.80" width="583.40" height="4.00" fill="#000"/>
<rect x="110.21" y="524.50" width="3.00" height="11.00" fill="#000"/>
<rect x="110.21" y="290.80" width="3.00" height="10.00" fill="#000"/>
<rect x="187.83" y="524.50" width="3.00" height="11.00" fill="#000"/>
<rect x="187.83" y="290.80" width="3.00" height="10.00" fill="#000"/>
<rect x="265.45" y="524.50" width="3.00" height="11.00" fill="#000"/>
<rect x="265.45" y="290.80" width="3.00" height="10.00" fill="#000"/>
<rect x="343.07" y="524.50" width="3.00" height="11.00" fill="#000"/>
<rect x="343.07" y="290.80" width="3.00" height="10.00" fill="#000"/>
<rect x="420.69" y="524.50" width="3.00" height="11.00" fill="#000"/>
<rect x="420.69" y="290.80" width="3.00" height="10.00" fill="#000"/>
<rect x="498.31" y="524.50" width="3.00" height="11.00" fill="#000"/>
<rect x="498.31" y="290.80" width="3.00" height="10.00" fill="#000"/>
<rect x="575.93" y="524.50" width="3.00" height="11.00" fill="#000"/>
<rect x="575.93" y="290.80" width="3.00" height="10.00" fill="#000"/>
<rect x="653.55" y="524.50" width="3.00" height="11.00" fill="#000"/>
<rect x="653.55" y="290.80" width="3.00" height="10.00" fill="#000"/>
<rect x="149.02" y="530.50" width="3.00" height="5.00" fill="#000"/>
<rect x="149.02" y="296.30" width="3.00" height="4.50" fill="#000"/>
<rect x="226.64" y="530.50" width="3.00" height="5.00" fill="#000"/>
<rect x="226.64" y="296.30" width="3.00" height="4.50" fill="#000"/>
<rect x="304.26" y="530.50" width="3.00" height="5.00" fill="#000"/>
<rect x="304.26" y="296.30" width="3.00" height="4.50" fill="#000"/>
<rect x="381.88" y="530.50" width="3.00" height="5.00" fill="#000"/>
<rect x="381.88" y="296.30" width="3.00" height="4.50" fill="#000"/>
<rect x="459.50" y="530.50" width="3.00" height="5.00" fill="#000"/>
<rect x="459.50" y="296.30" width="3.00" height="4.50" fill="#000"/>
<rect x="537.12" y="530.50" width="3.00" height="5.00" fill="#000"/>
<rect x="537.12" y="296.30" width="3.00" height="4.50" fill="#000"/>
<rect x="614.74" y="530.50" width="3.00" height="5.00" fill="#000"/>
<rect x="614.74" y="296.30" width="3.00" height="4.50" fill="#000"/>
<text transform="translate(58.16,41.26) scale(1.0161,1)" font-size="36.23" font-weight="bold" stroke="#fff" stroke-width="0.6" fill="#000">(a)</text>
<text transform="translate(123.97,136.34) scale(0.9826,1)" font-size="36.16" stroke="#fff" stroke-width="0.5" fill="#000">26.46</text>
<text transform="translate(214.37,125.66) scale(1.0051,1)" font-size="24.45" stroke="#fff" stroke-width="0.5" fill="#000">o</text>
<text transform="translate(290.87,116.00) scale(0.9900,1)" font-size="36.05" stroke="#fff" stroke-width="0.5" fill="#000">EEG paper</text>
<text transform="translate(123.43,352.94) scale(0.9854,1)" font-size="36.02" stroke="#fff" stroke-width="0.5" fill="#000">26.58</text>
<text transform="translate(211.95,343.35) scale(1.1778,1)" font-size="25.18" stroke="#fff" stroke-width="0.5" fill="#000">o</text>
<text transform="translate(282.62,350.50) scale(0.9975,1)" font-size="35.76" stroke="#fff" stroke-width="0.5" fill="#000">Graphite foil</text>
<g transform="translate(95.32,576.79) scale(0.8848,1)" fill="#000">
<text font-size="41.17" stroke="#fff" stroke-width="0.5" xml:space="preserve"> 0</text>
<path transform="translate(0.000,0) scale(0.02010)" d="M763 0L583 0L583 -1147Q518 -1085 413 -1023Q308 -961 224 -930L224 -1104Q375 -1175 488 -1276Q601 -1377 648 -1472L763 -1472Z" stroke="#fff" stroke-width="24.87"/>
</g>
<text transform="translate(166.78,577.79) scale(0.8908,1)" font-size="40.82" stroke="#fff" stroke-width="0.5" fill="#000">20</text>
<text transform="translate(242.67,578.89) scale(0.8539,1)" font-size="40.96" stroke="#fff" stroke-width="0.5" fill="#000">30</text>
<text transform="translate(322.79,578.89) scale(0.8649,1)" font-size="40.96" stroke="#fff" stroke-width="0.5" fill="#000">40</text>
<text transform="translate(400.96,578.50) scale(0.8915,1)" font-size="40.40" stroke="#fff" stroke-width="0.5" fill="#000">50</text>
<text transform="translate(479.09,577.79) scale(0.9157,1)" font-size="40.82" stroke="#fff" stroke-width="0.5" fill="#000">60</text>
<text transform="translate(555.70,575.79) scale(0.8624,1)" font-size="40.96" stroke="#fff" stroke-width="0.5" fill="#000">70</text>
<text transform="translate(627.25,576.78) scale(0.8523,1)" font-size="42.37" stroke="#fff" stroke-width="0.5" fill="#000">80</text>
<text transform="translate(255.18,632.40) scale(0.8673,1)" font-size="46.66" stroke="#fff" stroke-width="0.5" fill="#000">2θ (Degree)</text>
<text transform="translate(47.10,452.40) rotate(-90) scale(1.1020,1)" font-size="41.42" stroke="#fff" stroke-width="0.5" fill="#000">Intensity (a.u.)</text>
<polyline points="810.10,276.99 811.10,278.08 812.10,273.68 813.10,279.66 814.10,278.07 815.10,278.26 816.10,279.44 817.10,276.61 818.10,276.55 819.10,278.12 820.10,277.45 821.10,276.05 822.10,276.48 823.10,275.32 824.10,277.51 825.10,277.80 826.10,275.90 827.10,279.33 828.10,272.69 829.10,275.03 830.10,278.59 831.10,274.38 832.10,271.99 833.10,277.53 834.10,275.76 835.10,272.29 836.10,275.88 837.10,272.30 838.10,271.54 839.10,273.65 840.10,272.87 841.10,271.54 842.10,272.78 843.10,271.41 844.10,273.29 845.10,272.99 846.10,274.31 847.10,271.90 848.10,270.11 849.10,270.03 850.10,271.97 851.10,275.27 852.10,273.86 853.10,270.92 854.10,273.83 855.10,269.71 856.10,273.72 857.10,270.92 858.10,272.95 859.10,272.48 860.10,270.56 861.10,271.41 862.10,268.33 863.10,269.68 864.10,271.26 865.10,276.29 866.10,269.06 867.10,267.07 868.10,264.12 869.10,267.21 870.10,261.17 871.10,261.94 872.10,263.33 873.10,259.57 874.10,264.05 875.10,262.45 876.10,258.54 877.10,257.81 878.10,255.57 879.10,254.60 880.10,257.24 881.10,256.66 882.10,255.14 883.10,253.89 884.10,251.14 885.10,251.59 886.10,246.49 887.10,247.40 888.10,248.03 889.10,245.41 890.10,239.55 891.10,237.30 892.10,238.08 893.10,236.44 894.10,227.71 895.10,227.14 896.10,225.54 897.10,224.18 898.10,216.36 899.10,214.53 900.10,207.69 901.10,207.74 902.10,198.85 903.10,192.40 904.10,186.53 905.10,183.69 906.10,177.53 907.10,168.55 908.10,165.01 909.10,154.13 910.10,145.63 911.10,138.38 912.10,139.55 913.10,146.91 914.10,153.22 915.10,160.41 916.10,164.12 917.10,165.16 918.10,166.98 919.10,175.32 920.10,175.58 921.10,181.59 922.10,191.88 923.10,195.88 924.10,200.16 925.10,201.26 926.10,202.44 927.10,206.96 928.10,212.13 929.10,212.80 930.10,216.13 931.10,217.86 932.10,221.03 933.10,227.13 934.10,228.30 935.10,226.95 936.10,228.69 937.10,231.15 938.10,234.63 939.10,232.66 940.10,235.84 941.10,233.37 942.10,236.47 943.10,241.11 944.10,243.42 945.10,240.80 946.10,242.67 947.10,246.58 948.10,244.92 949.10,244.88 950.10,246.76 951.10,245.67 952.10,246.66 953.10,245.07 954.10,241.29 955.10,240.89 956.10,239.65 957.10,235.80 958.10,235.20 959.10,237.65 960.10,231.54 961.10,235.22 962.10,232.52 963.10,230.22 964.10,229.81 965.10,227.72 966.10,226.83 967.10,220.60 968.10,216.24 969.10,210.53 970.10,208.53 971.10,200.91 972.10,191.95 973.10,187.62 974.10,181.39 975.10,177.18 976.10,171.82 977.10,168.60 978.10,153.24 979.10,152.78 980.10,149.25 981.10,148.34 982.10,152.66 983.10,156.50 984.10,162.53 985.10,169.04 986.10,168.64 987.10,178.70 988.10,180.49 989.10,189.45 990.10,193.22 991.10,201.52 992.10,207.77 993.10,216.57 994.10,222.44 995.10,229.63 996.10,241.28 997.10,248.30 998.10,255.09 999.10,250.63 1000.10,256.88 1001.10,261.46 1002.10,258.54 1003.10,261.39 1004.10,266.58 1005.10,265.84 1006.10,261.97 1007.10,266.79 1008.10,266.72 1009.10,266.32 1010.10,265.95 1011.10,266.11 1012.10,264.49 1013.10,265.75 1014.10,268.77 1015.10,268.30 1016.10,272.18 1017.10,268.57 1018.10,265.06 1019.10,269.25 1020.10,270.47 1021.10,270.66 1022.10,270.03 1023.10,268.29 1024.10,272.65 1025.10,268.49 1026.10,271.05 1027.10,269.09 1028.10,267.30 1029.10,272.22 1030.10,264.72 1031.10,267.84 1032.10,270.27 1033.10,268.78 1034.10,270.95 1035.10,269.43 1036.10,268.89 1037.10,274.03 1038.10,269.69 1039.10,270.02 1040.10,268.50 1041.10,269.38 1042.10,272.29 1043.10,272.38 1044.10,271.57 1045.10,270.48 1046.10,273.35 1047.10,269.02 1048.10,271.81 1049.10,272.15 1050.10,271.17 1051.10,273.17 1052.10,271.68 1053.10,271.44 1054.10,276.39 1055.10,274.37 1056.10,275.24 1057.10,273.05 1058.10,274.78 1059.10,274.43 1060.10,275.24 1061.10,277.43 1062.10,272.49 1063.10,273.40 1064.10,272.79 1065.10,266.20 1066.10,270.21 1067.10,272.89 1068.10,274.04 1069.10,271.73 1070.10,274.96 1071.10,275.23 1072.10,271.99 1073.10,275.46 1074.10,276.07 1075.10,273.60 1076.10,270.84 1077.10,275.48 1078.10,272.36 1079.10,271.94 1080.10,272.86 1081.10,271.60 1082.10,274.65 1083.10,274.07 1084.10,274.90 1085.10,273.67 1086.10,271.05 1087.10,272.24 1088.10,274.20 1089.10,271.75 1090.10,278.07 1091.10,272.05 1092.10,271.39 1093.10,274.69 1094.10,273.92 1095.10,272.45 1096.10,272.06 1097.10,273.32 1098.10,274.11 1099.10,273.98 1100.10,271.97 1101.10,273.39 1102.10,274.19 1103.10,274.07 1104.10,266.78 1105.10,270.99 1106.10,271.24 1107.10,272.31 1108.10,273.13 1109.10,274.58 1110.10,274.05 1111.10,272.68 1112.10,273.01 1113.10,276.36 1114.10,271.90 1115.10,273.70 1116.10,276.15 1117.10,273.88 1118.10,269.40 1119.10,274.05 1120.10,272.66 1121.10,273.24 1122.10,275.51 1123.10,274.47 1124.10,273.13 1125.10,275.39 1126.10,274.58 1127.10,274.02 1128.10,274.45 1129.10,274.42 1130.10,273.35 1131.10,273.18 1132.10,274.16 1133.10,272.36 1134.10,271.84 1135.10,276.76 1136.10,273.88 1137.10,274.35 1138.10,274.19 1139.10,274.54 1140.10,274.59 1141.10,274.71 1142.10,273.11 1143.10,276.45 1144.10,273.41 1145.10,276.73 1146.10,271.15 1147.10,272.81 1148.10,276.75 1149.10,274.61 1150.10,273.64 1151.10,275.65 1152.10,272.97 1153.10,275.12 1154.10,270.78 1155.10,274.13 1156.10,273.76 1157.10,276.03 1158.10,276.66 1159.10,273.38 1160.10,278.06 1161.10,273.87 1162.10,271.09 1163.10,270.48 1164.10,277.92 1165.10,274.83 1166.10,273.77 1167.10,273.57 1168.10,272.92 1169.10,277.56 1170.10,274.83 1171.10,278.39 1172.10,274.61 1173.10,270.52 1174.10,276.59 1175.10,274.28 1176.10,274.53 1177.10,277.96 1178.10,274.48 1179.10,277.18 1180.10,274.96 1181.10,273.54 1182.10,275.93 1183.10,273.82 1184.10,277.29 1185.10,276.78 1186.10,275.07 1187.10,276.11 1188.10,276.02 1189.10,274.42 1190.10,276.64 1191.10,274.51 1192.10,276.10 1193.10,273.12 1194.10,275.12 1195.10,275.71 1196.10,273.42 1197.10,274.13 1198.10,273.90 1199.10,276.29 1200.10,273.54 1201.10,275.74 1202.10,277.80 1203.10,275.57 1204.10,271.83 1205.10,275.13 1206.10,276.86 1207.10,274.34 1208.10,276.98 1209.10,276.04 1210.10,275.67 1211.10,274.36 1212.10,273.88 1213.10,274.36 1214.10,274.97 1215.10,275.83 1216.10,275.63 1217.10,274.26 1218.10,274.95 1219.10,275.56 1220.10,271.73 1221.10,273.35 1222.10,273.28 1223.10,274.40 1224.10,274.25 1225.10,274.27 1226.10,273.08 1227.10,276.00 1228.10,275.23 1229.10,271.56 1230.10,274.69 1231.10,272.50 1232.10,277.85 1233.10,273.72 1234.10,273.82 1235.10,274.69 1236.10,274.13 1237.10,274.37 1238.10,277.38 1239.10,274.84 1240.10,275.97 1241.10,276.49 1242.10,272.46 1243.10,277.48 1244.10,275.54 1245.10,276.01 1246.10,272.52 1247.10,275.67 1248.10,274.86 1249.10,273.01 1250.10,278.33 1251.10,275.02 1252.10,273.45 1253.10,274.23 1254.10,275.54 1255.10,275.92 1256.10,274.83 1257.10,275.99 1258.10,276.42 1259.10,271.23 1260.10,272.61 1261.10,271.70 1262.10,273.62 1263.10,276.12 1264.10,274.57 1265.10,271.28 1266.10,272.65 1267.10,275.10 1268.10,272.07 1269.10,272.82 1270.10,273.51 1271.10,269.39 1272.10,274.25 1273.10,273.33 1274.10,273.66 1275.10,270.62 1276.10,270.91 1277.10,271.12 1278.10,272.61 1279.10,272.14 1280.10,272.11 1281.10,275.13 1282.10,274.02 1283.10,269.94 1284.10,269.77 1285.10,273.94 1286.10,269.71 1287.10,272.52 1288.10,272.50 1289.10,267.97 1290.10,268.01 1291.10,268.18 1292.10,265.88 1293.10,265.15 1294.10,265.73 1295.10,267.61 1296.10,264.58 1297.10,264.42 1298.10,263.26 1299.10,260.87 1300.10,265.60 1301.10,257.67 1302.10,260.28 1303.10,262.05 1304.10,257.80 1305.10,261.04 1306.10,261.75 1307.10,257.29 1308.10,259.03 1309.10,256.43 1310.10,259.63 1311.10,259.15 1312.10,259.86 1313.10,262.62 1314.10,261.59 1315.10,263.95 1316.10,263.31 1317.10,260.76 1318.10,264.74 1319.10,266.52 1320.10,264.19 1321.10,270.69 1322.10,269.25 1323.10,270.66 1324.10,269.10 1325.10,271.77 1326.10,272.99 1327.10,272.50 1328.10,273.86 1329.10,270.14 1330.10,277.04 1331.10,272.42 1332.10,270.38 1333.10,272.66 1334.10,272.84 1335.10,275.38 1336.10,272.51 1337.10,274.67 1338.10,272.18 1339.10,278.05 1340.10,274.73 1341.10,277.25 1342.10,271.42 1343.10,274.42 1344.10,271.15 1345.10,273.87 1346.10,273.86 1347.10,269.34 1348.10,270.00 1349.10,269.74 1350.10,268.90 1351.10,270.17 1352.10,269.54 1353.10,268.43 1354.10,271.19 1355.10,271.87 1356.10,268.18 1357.10,269.48 1358.10,270.42 1359.10,269.85 1360.10,268.87 1361.10,271.66 1362.10,271.68 1363.10,271.33 1364.10,269.63 1365.10,273.81 1366.10,273.38 1367.10,269.36 1368.10,269.96 1369.10,272.54 1370.10,268.86 1371.10,271.26 1372.10,270.72 1373.10,269.44 1374.10,270.49 1375.10,268.11 1376.10,270.23 1377.10,267.65 1378.10,275.96 1379.10,274.68 1380.10,274.35 1381.10,272.78 1382.10,274.30 1383.10,275.02 1384.10,274.73 1385.10,274.74 1386.10,271.45 1387.10,274.18 1388.10,272.53 1389.10,271.47 1390.10,271.71 1391.10,274.84 1392.10,276.17" fill="none" stroke="#e23c40" stroke-width="3.6" stroke-linejoin="round" stroke-linecap="round"/>
<polyline points="810.10,484.18 811.10,489.13 812.10,488.65 813.10,485.65 814.10,485.48 815.10,486.06 816.10,487.70 817.10,485.48 818.10,484.28 819.10,486.56 820.10,482.66 821.10,486.14 822.10,487.73 823.10,486.32 824.10,487.03 825.10,486.52 826.10,486.85 827.10,485.87 828.10,484.27 829.10,485.19 830.10,485.39 831.10,487.47 832.10,488.01 833.10,486.04 834.10,484.12 835.10,484.11 836.10,484.93 837.10,487.41 838.10,485.68 839.10,485.01 840.10,483.84 841.10,486.43 842.10,485.44 843.10,484.86 844.10,485.07 845.10,487.56 846.10,484.57 847.10,487.49 848.10,486.74 849.10,484.81 850.10,486.10 851.10,484.46 852.10,483.30 853.10,484.17 854.10,483.12 855.10,485.37 856.10,484.55 857.10,485.42 858.10,485.81 859.10,479.48 860.10,484.95 861.10,481.56 862.10,484.69 863.10,483.01 864.10,484.58 865.10,486.59 866.10,481.67 867.10,484.71 868.10,484.27 869.10,481.37 870.10,485.44 871.10,484.45 872.10,483.59 873.10,483.25 874.10,489.54 875.10,483.77 876.10,481.52 877.10,482.91 878.10,483.81 879.10,483.78 880.10,484.27 881.10,482.72 882.10,485.27 883.10,483.63 884.10,482.22 885.10,483.10 886.10,483.78 887.10,485.76 888.10,485.18 889.10,483.86 890.10,484.43 891.10,484.74 892.10,487.66 893.10,483.41 894.10,485.15 895.10,485.56 896.10,482.88 897.10,484.70 898.10,484.66 899.10,483.65 900.10,485.31 901.10,486.05 902.10,486.21 903.10,484.09 904.10,484.70 905.10,488.16 906.10,482.63 907.10,484.75 908.10,485.82 909.10,484.64 910.10,485.45 911.10,484.68 912.10,485.61 913.10,486.45 914.10,484.05 915.10,484.72 916.10,484.31 917.10,483.75 918.10,484.37 919.10,482.59 920.10,485.59 921.10,487.12 922.10,487.13 923.10,486.44 924.10,482.86 925.10,486.83 926.10,483.26 927.10,484.32 928.10,487.35 929.10,482.68 930.10,485.74 931.10,484.83 932.10,484.11 933.10,482.92 934.10,484.96 935.10,483.50 936.10,485.86 937.10,486.08 938.10,481.85 939.10,483.18 940.10,483.40 941.10,481.94 942.10,481.96 943.10,483.80 944.10,483.24 945.10,480.83 946.10,482.52 947.10,484.11 948.10,481.26 949.10,481.61 950.10,485.53 951.10,485.00 952.10,480.20 953.10,480.54 954.10,483.20 955.10,480.58 956.10,481.97 957.10,481.53 958.10,483.00 959.10,477.91 960.10,478.26 961.10,479.63 962.10,483.00 963.10,480.90 964.10,478.15 965.10,481.38 966.10,481.40 967.10,479.44 968.10,478.59 969.10,478.80 970.10,478.68 971.10,475.28 972.10,473.80 973.10,469.92 974.10,463.46 975.10,452.96 976.10,429.24 977.10,398.13 978.10,377.05 979.10,374.00 980.10,386.60 981.10,408.52 982.10,427.46 983.10,450.76 984.10,464.12 985.10,471.55 986.10,474.91 987.10,479.35 988.10,479.57 989.10,477.68 990.10,477.40 991.10,479.52 992.10,479.00 993.10,482.60 994.10,477.81 995.10,477.41 996.10,480.10 997.10,480.69 998.10,481.03 999.10,482.16 1000.10,484.40 1001.10,480.65 1002.10,480.44 1003.10,478.59 1004.10,481.89 1005.10,482.95 1006.10,481.25 1007.10,483.62 1008.10,481.85 1009.10,484.28 1010.10,482.45 1011.10,480.28 1012.10,481.00 1013.10,479.62 1014.10,479.34 1015.10,482.59 1016.10,483.61 1017.10,485.39 1018.10,482.22 1019.10,481.98 1020.10,480.63 1021.10,484.03 1022.10,483.12 1023.10,481.59 1024.10,483.69 1025.10,483.53 1026.10,479.68 1027.10,483.90 1028.10,482.98 1029.10,482.17 1030.10,482.17 1031.10,485.68 1032.10,485.38 1033.10,485.88 1034.10,481.16 1035.10,481.99 1036.10,484.53 1037.10,481.18 1038.10,482.00 1039.10,480.31 1040.10,486.19 1041.10,484.96 1042.10,484.03 1043.10,483.69 1044.10,482.70 1045.10,482.77 1046.10,484.42 1047.10,482.33 1048.10,485.47 1049.10,482.74 1050.10,482.17 1051.10,485.67 1052.10,483.39 1053.10,484.54 1054.10,483.02 1055.10,480.11 1056.10,484.62 1057.10,481.61 1058.10,485.53 1059.10,481.34 1060.10,480.86 1061.10,484.36 1062.10,484.58 1063.10,484.09 1064.10,482.00 1065.10,485.39 1066.10,481.65 1067.10,483.27 1068.10,482.77 1069.10,483.45 1070.10,485.44 1071.10,483.08 1072.10,485.01 1073.10,485.24 1074.10,481.41 1075.10,482.30 1076.10,483.57 1077.10,483.25 1078.10,484.70 1079.10,481.14 1080.10,485.39 1081.10,485.45 1082.10,484.00 1083.10,482.07 1084.10,484.30 1085.10,483.44 1086.10,485.22 1087.10,484.19 1088.10,485.50 1089.10,483.65 1090.10,486.66 1091.10,480.67 1092.10,482.74 1093.10,485.16 1094.10,481.96 1095.10,485.56 1096.10,482.44 1097.10,484.54 1098.10,482.93 1099.10,483.69 1100.10,484.68 1101.10,484.23 1102.10,483.79 1103.10,487.84 1104.10,484.41 1105.10,482.85 1106.10,485.88 1107.10,485.71 1108.10,486.35 1109.10,487.25 1110.10,482.89 1111.10,486.08 1112.10,486.21 1113.10,484.38 1114.10,484.77 1115.10,479.57 1116.10,483.45 1117.10,487.23 1118.10,481.50 1119.10,483.50 1120.10,484.81 1121.10,485.27 1122.10,486.95 1123.10,481.51 1124.10,484.40 1125.10,485.70 1126.10,482.21 1127.10,484.24 1128.10,487.31 1129.10,486.39 1130.10,485.14 1131.10,480.09 1132.10,484.05 1133.10,484.87 1134.10,483.75 1135.10,484.13 1136.10,489.15 1137.10,483.86 1138.10,482.64 1139.10,484.57 1140.10,483.67 1141.10,483.66 1142.10,484.01 1143.10,485.37 1144.10,484.50 1145.10,482.18 1146.10,483.88 1147.10,484.84 1148.10,483.31 1149.10,485.88 1150.10,485.27 1151.10,482.43 1152.10,484.51 1153.10,487.15 1154.10,486.46 1155.10,483.86 1156.10,485.36 1157.10,482.83 1158.10,481.57 1159.10,484.76 1160.10,484.25 1161.10,484.65 1162.10,483.77 1163.10,484.31 1164.10,482.95 1165.10,484.51 1166.10,485.06 1167.10,483.61 1168.10,484.98 1169.10,480.82 1170.10,482.38 1171.10,485.92 1172.10,486.41 1173.10,483.96 1174.10,483.37 1175.10,481.48 1176.10,484.07 1177.10,484.71 1178.10,481.06 1179.10,484.30 1180.10,484.17 1181.10,484.06 1182.10,481.52 1183.10,484.16 1184.10,480.87 1185.10,485.62 1186.10,483.42 1187.10,481.32 1188.10,485.30 1189.10,484.96 1190.10,482.04 1191.10,486.58 1192.10,481.41 1193.10,483.49 1194.10,484.85 1195.10,479.29 1196.10,484.49 1197.10,482.75 1198.10,482.80 1199.10,481.06 1200.10,483.28 1201.10,480.94 1202.10,481.13 1203.10,481.92 1204.10,480.64 1205.10,485.08 1206.10,480.40 1207.10,481.28 1208.10,481.94 1209.10,482.42 1210.10,483.64 1211.10,483.64 1212.10,481.81 1213.10,481.64 1214.10,482.27 1215.10,483.48 1216.10,483.24 1217.10,481.26 1218.10,478.74 1219.10,485.42 1220.10,483.46 1221.10,482.28 1222.10,482.30 1223.10,480.80 1224.10,479.90 1225.10,480.82 1226.10,480.84 1227.10,480.03 1228.10,478.52 1229.10,480.17 1230.10,481.41 1231.10,479.51 1232.10,480.16 1233.10,476.63 1234.10,479.44 1235.10,479.41 1236.10,477.48 1237.10,476.53 1238.10,479.83 1239.10,477.76 1240.10,479.74 1241.10,478.20 1242.10,479.79 1243.10,478.17 1244.10,476.23 1245.10,478.44 1246.10,477.98 1247.10,479.50 1248.10,477.67 1249.10,477.70 1250.10,479.65 1251.10,480.09 1252.10,479.39 1253.10,479.78 1254.10,478.80 1255.10,479.26 1256.10,479.38 1257.10,478.57 1258.10,477.97 1259.10,478.04 1260.10,481.61 1261.10,477.72 1262.10,477.26 1263.10,476.99 1264.10,477.45 1265.10,477.82 1266.10,475.54 1267.10,474.10 1268.10,477.66 1269.10,474.52 1270.10,477.40 1271.10,477.11 1272.10,478.62 1273.10,479.33 1274.10,477.13 1275.10,475.53 1276.10,474.40 1277.10,474.87 1278.10,476.05 1279.10,472.51 1280.10,475.77 1281.10,475.45 1282.10,476.30 1283.10,474.52 1284.10,475.00 1285.10,473.42 1286.10,473.60 1287.10,471.23 1288.10,473.98 1289.10,475.95 1290.10,473.41 1291.10,473.39 1292.10,470.83 1293.10,474.13 1294.10,469.89 1295.10,471.54 1296.10,469.45 1297.10,466.65 1298.10,468.65 1299.10,465.77 1300.10,464.72 1301.10,463.79 1302.10,461.65 1303.10,459.67 1304.10,459.59 1305.10,456.24 1306.10,454.62 1307.10,451.03 1308.10,447.59 1309.10,447.41 1310.10,447.21 1311.10,448.51 1312.10,451.51 1313.10,448.53 1314.10,453.33 1315.10,451.58 1316.10,455.35 1317.10,458.22 1318.10,457.92 1319.10,461.32 1320.10,467.40 1321.10,470.02 1322.10,472.16 1323.10,473.01 1324.10,478.99 1325.10,475.82 1326.10,475.14 1327.10,479.62 1328.10,478.32 1329.10,477.13 1330.10,480.00 1331.10,478.69 1332.10,479.80 1333.10,479.46 1334.10,477.73 1335.10,481.21 1336.10,480.17 1337.10,478.54 1338.10,479.17 1339.10,482.13 1340.10,480.20 1341.10,481.05 1342.10,482.19 1343.10,481.50 1344.10,478.98 1345.10,482.56 1346.10,483.15 1347.10,483.13 1348.10,484.40 1349.10,482.46 1350.10,483.17 1351.10,484.51 1352.10,481.52 1353.10,484.78 1354.10,484.77 1355.10,483.25 1356.10,484.93 1357.10,483.34 1358.10,480.56 1359.10,483.78 1360.10,482.46 1361.10,482.59 1362.10,482.15 1363.10,484.06 1364.10,482.74 1365.10,480.72 1366.10,482.59 1367.10,482.95 1368.10,480.59 1369.10,481.03 1370.10,481.08 1371.10,480.69 1372.10,482.19 1373.10,483.22 1374.10,484.59 1375.10,483.44 1376.10,483.13 1377.10,483.28 1378.10,483.56 1379.10,480.78 1380.10,482.46 1381.10,481.83 1382.10,481.07 1383.10,480.52 1384.10,480.40 1385.10,480.75 1386.10,479.17 1387.10,481.95 1388.10,481.05 1389.10,481.22 1390.10,481.57 1391.10,482.16 1392.10,480.02" fill="none" stroke="#7a7a7a" stroke-width="3.6" stroke-linejoin="round" stroke-linecap="round"/>
<rect x="806.80" y="61.90" width="588.30" height="4.00" fill="#000"/>
<rect x="806.80" y="543.00" width="588.30" height="4.00" fill="#000"/>
<rect x="806.80" y="61.90" width="3.60" height="485.10" fill="#000"/>
<rect x="1391.50" y="61.90" width="3.60" height="485.10" fill="#000"/>
<rect x="953.27" y="535.00" width="3.00" height="10.00" fill="#000"/>
<rect x="953.27" y="63.90" width="3.00" height="10.00" fill="#000"/>
<rect x="1099.45" y="535.00" width="3.00" height="10.00" fill="#000"/>
<rect x="1099.45" y="63.90" width="3.00" height="10.00" fill="#000"/>
<rect x="1245.62" y="535.00" width="3.00" height="10.00" fill="#000"/>
<rect x="1245.62" y="63.90" width="3.00" height="10.00" fill="#000"/>
<rect x="880.19" y="540.00" width="3.00" height="5.00" fill="#000"/>
<rect x="880.19" y="63.90" width="3.00" height="5.00" fill="#000"/>
<rect x="1026.36" y="540.00" width="3.00" height="5.00" fill="#000"/>
<rect x="1026.36" y="63.90" width="3.00" height="5.00" fill="#000"/>
<rect x="1172.54" y="540.00" width="3.00" height="5.00" fill="#000"/>
<rect x="1172.54" y="63.90" width="3.00" height="5.00" fill="#000"/>
<rect x="1318.71" y="540.00" width="3.00" height="5.00" fill="#000"/>
<rect x="1318.71" y="63.90" width="3.00" height="5.00" fill="#000"/>
<text transform="translate(800.35,37.26) scale(0.9686,1)" font-size="36.23" font-weight="bold" stroke="#fff" stroke-width="0.6" fill="#000">(b)</text>
<text transform="translate(870.47,138.80) scale(0.9438,1)" font-size="38.37" font-weight="bold" stroke="#fff" stroke-width="0.6" fill="#000">D</text>
<text transform="translate(970.72,138.43) scale(0.9655,1)" font-size="37.29" font-weight="bold" stroke="#fff" stroke-width="0.6" fill="#000">G</text>
<text transform="translate(1058.74,243.80) scale(1.0268,1)" font-size="35.17" stroke="#fff" stroke-width="0.5" fill="#000">EEG paper</text>
<text transform="translate(1039.62,455.60) scale(0.9543,1)" font-size="37.35" stroke="#fff" stroke-width="0.5" fill="#000">Graphite foil</text>
<g transform="translate(764.01,589.40) scale(1.0120,1)" fill="#000">
<text font-size="39.66" stroke="#fff" stroke-width="0.5" xml:space="preserve"> 000</text>
<path transform="translate(0.000,0) scale(0.01936)" d="M763 0L583 0L583 -1147Q518 -1085 413 -1023Q308 -961 224 -930L224 -1104Q375 -1175 488 -1276Q601 -1377 648 -1472L763 -1472Z" stroke="#fff" stroke-width="25.82"/>
</g>
<g transform="translate(910.02,589.40) scale(1.0108,1)" fill="#000">
<text font-size="39.66" stroke="#fff" stroke-width="0.5" xml:space="preserve"> 500</text>
<path transform="translate(0.000,0) scale(0.01936)" d="M763 0L583 0L583 -1147Q518 -1085 413 -1023Q308 -961 224 -930L224 -1104Q375 -1175 488 -1276Q601 -1377 648 -1472L763 -1472Z" stroke="#fff" stroke-width="25.82"/>
</g>
<text transform="translate(1055.90,589.39) scale(0.9811,1)" font-size="40.82" stroke="#fff" stroke-width="0.5" fill="#000">2000</text>
<text transform="translate(1202.92,589.39) scale(0.9685,1)" font-size="40.82" stroke="#fff" stroke-width="0.5" fill="#000">2500</text>
<text transform="translate(1349.28,589.39) scale(0.9779,1)" font-size="40.82" stroke="#fff" stroke-width="0.5" fill="#000">3000</text>
<text transform="translate(932.05,640.80) scale(0.9353,1)" font-size="47.53" stroke="#fff" stroke-width="0.5" fill="#000">Raman shift (cm</text>
<rect x="1256.50" y="617.60" width="12.30" height="3.60" fill="#000"/>
<g transform="translate(1269.35,630.10) scale(1.0517,1)" fill="#000">
<path transform="translate(0.000,0) scale(0.02188)" d="M763 0L583 0L583 -1147Q518 -1085 413 -1023Q308 -961 224 -930L224 -1104Q375 -1175 488 -1276Q601 -1377 648 -1472L763 -1472Z" stroke="#fff" stroke-width="22.86"/>
</g>
<text transform="translate(1296.05,640.69) scale(0.9233,1)" font-size="44.96" stroke="#fff" stroke-width="0.5" fill="#000">)</text>
<text transform="translate(780.20,445.21) rotate(-90) scale(1.0062,1)" font-size="45.49" stroke="#fff" stroke-width="0.5" fill="#000">Intensity (a.u.)</text>
<polyline points="79.40,862.21 80.10,861.78 80.80,862.17 81.50,863.35 82.20,867.37 82.90,865.18 83.60,868.02 84.30,869.59 85.00,868.40 85.70,870.70 86.40,871.27 87.10,870.81 87.80,872.42 88.50,871.14 89.20,870.20 89.90,871.59 90.60,870.96 91.30,870.42 92.00,870.67 92.70,874.12 93.40,871.77 94.10,872.46 94.80,872.11 95.50,877.79 96.20,879.13 96.90,870.59 97.60,873.55 98.30,871.78 99.00,873.79 99.70,873.16 100.40,874.41 101.10,876.88 101.80,877.04 102.50,875.78 103.20,875.41 103.90,880.66 104.60,875.00 105.30,873.83 106.00,871.18 106.70,874.02 107.40,872.56 108.10,878.22 108.80,880.60 109.50,877.36 110.20,874.03 110.90,880.19 111.60,876.67 112.30,871.02 113.00,877.17 113.70,879.09 114.40,878.72 115.10,880.69 115.80,879.45 116.50,878.47 117.20,873.99 117.90,875.94 118.60,878.83 119.30,879.98 120.00,876.33 120.70,877.30 121.40,879.71 122.10,874.59 122.80,874.57 123.50,878.38 124.20,879.50 124.90,877.98 125.60,874.12 126.30,879.26 127.00,876.43 127.70,880.86 128.40,879.36 129.10,880.30 129.80,881.28 130.50,878.91 131.20,882.05 131.90,881.13 132.60,881.53 133.30,883.79 134.00,879.78 134.70,883.40 135.40,882.26 136.10,879.82 136.80,876.83 137.50,881.46 138.20,881.79 138.90,883.60 139.60,886.21 140.30,883.75 141.00,885.34 141.70,882.57 142.40,886.79 143.10,889.95 143.80,890.35 144.50,891.24 145.20,891.07 145.90,892.39 146.60,898.99 147.30,900.05 148.00,901.35 148.70,905.13 149.40,908.68 150.10,912.96 150.80,916.59 151.50,920.46 152.20,926.79 152.90,929.31 153.60,932.73 154.30,936.42 155.00,940.04 155.70,945.06 156.40,947.79 157.10,951.90 157.80,951.61 158.50,958.22 159.20,962.38 159.90,966.70 160.60,968.45 161.30,970.38 162.00,975.96 162.70,978.40 163.40,980.82 164.10,985.37 164.80,990.36 165.50,993.97 166.20,997.02 166.90,998.90 167.60,1005.58 168.30,1005.74 169.00,1010.20 169.70,1012.44 170.40,1018.42 171.10,1021.19 171.80,1025.19 172.50,1028.09 173.20,1031.55 173.90,1035.30 174.60,1036.89 175.30,1042.79 176.00,1045.86 176.70,1048.00 177.40,1051.97 178.10,1055.82 178.80,1060.09 179.50,1061.40 180.20,1062.21 180.90,1061.40 181.60,1058.87 182.30,1057.09 183.00,1054.49 183.70,1050.73 184.40,1047.65 185.10,1045.33 185.80,1042.45 186.50,1039.80 187.20,1037.65 187.90,1034.70 188.60,1031.86 189.30,1029.47 190.00,1024.41 190.70,1023.69 191.40,1017.37 192.10,1014.36 192.80,1008.03 193.50,1003.02 194.20,995.89 194.90,988.92 195.60,984.97 196.30,978.98 197.00,974.55 197.70,970.71 198.40,967.88 199.10,964.24 199.80,960.42 200.50,955.74 201.20,953.92 201.90,951.77 202.60,950.95 203.30,947.62 204.00,945.35 204.70,944.85 205.40,942.15 206.10,940.82 206.80,939.67 207.50,936.93 208.20,937.91 208.90,936.21 209.60,934.32 210.30,932.24 211.00,932.08 211.70,931.66 212.40,928.26 213.10,926.27 213.80,925.95 214.50,922.44 215.20,920.16 215.90,920.02 216.60,918.05 217.30,916.67 218.00,914.68 218.70,913.75 219.40,911.56 220.10,909.55 220.80,908.06 221.50,907.47 222.20,906.26 222.90,904.78 223.60,903.23 224.30,898.35 225.00,899.14 225.70,898.48 226.40,897.68 227.10,894.78 227.80,896.27 228.50,894.05 229.20,892.03 229.90,891.58 230.60,890.00 231.30,888.56 232.00,888.69 232.70,886.86 233.40,885.11 234.10,884.98 234.80,884.69 235.50,883.15 236.20,884.67 236.90,882.02 237.60,884.05 238.30,882.76 239.00,880.59 239.70,881.05 240.40,881.51 241.10,879.80 241.80,878.44 242.50,879.18 243.20,880.45 243.90,876.93 244.60,878.41 245.30,877.58 246.00,877.17 246.70,876.66 247.40,876.49 248.10,877.52 248.80,876.97 249.50,875.43 250.20,877.68 250.90,875.09 251.60,876.87 252.30,876.45 253.00,877.40 253.70,876.69 254.40,877.38 255.10,876.48 255.80,877.47 256.50,877.02 257.20,878.77 257.90,876.36 258.60,878.23 259.30,877.89 260.00,879.02 260.70,880.79 261.40,884.95 262.10,891.29 262.80,902.23 263.50,904.05 264.20,894.64 264.90,891.56 265.60,889.35 266.30,889.39 267.00,888.94 267.70,889.09 268.40,888.43 269.10,888.93 269.80,890.43 270.50,893.20 271.20,895.14 271.90,897.01 272.60,897.56 273.30,897.75 274.00,896.44 274.70,898.45 275.40,898.50 276.10,897.20 276.80,898.06 277.50,898.22 278.20,896.84 278.90,897.37 279.60,896.33 280.30,894.11 281.00,894.85 281.70,894.50 282.40,894.80 283.10,892.75 283.80,892.14 284.50,890.50 285.20,890.06 285.90,888.81 286.60,888.24 287.30,886.71 288.00,884.82 288.70,883.68 289.40,882.49 290.10,881.60 290.80,882.23 291.50,878.22 292.20,880.21 292.90,880.65 293.60,881.39 294.30,879.38 295.00,880.68 295.70,881.15 296.40,879.97 297.10,878.65 297.80,880.05 298.50,879.29 299.20,880.96 299.90,879.60 300.60,881.97 301.30,880.50 302.00,879.64 302.70,879.92 303.40,879.39 304.10,880.72 304.80,881.71 305.50,880.18 306.20,881.20 306.90,879.52 307.60,880.65 308.30,882.44 309.00,879.10 309.70,881.48 310.40,881.43 311.10,878.68 311.80,879.08 312.50,879.49 313.20,881.24 313.90,879.98 314.60,880.22 315.30,881.01 316.00,880.48 316.70,880.57 317.40,880.08 318.10,881.38 318.80,879.67 319.50,881.88 320.20,880.06 320.90,879.65 321.60,880.95 322.30,880.77 323.00,878.59 323.70,880.57 324.40,879.16 325.10,879.65 325.80,881.12 326.50,879.66 327.20,880.79 327.90,880.16 328.60,882.28 329.30,880.49 330.00,879.57 330.70,879.68 331.40,879.90 332.10,880.88 332.80,880.81 333.50,881.74 334.20,881.07 334.90,881.08 335.60,881.31 336.30,880.95 337.00,881.37 337.70,881.86 338.40,881.90 339.10,880.74 339.80,879.67 340.50,880.56 341.20,881.57 341.90,879.09 342.60,880.92 343.30,881.76 344.00,880.85 344.70,880.33 345.40,882.87 346.10,882.47 346.80,880.90 347.50,882.21 348.20,882.07 348.90,879.74 349.60,883.01 350.30,879.59 351.00,880.02 351.70,879.08 352.40,879.95 353.10,878.49 353.80,879.47 354.50,880.25 355.20,879.26 355.90,878.63 356.60,880.06 357.30,877.67 358.00,879.17 358.70,877.85 359.40,878.15 360.10,877.83 360.80,877.78 361.50,877.50 362.20,876.74 362.90,876.85 363.60,877.69 364.30,877.16 365.00,876.20 365.70,876.61 366.40,876.64 367.10,877.24 367.80,877.48 368.50,877.45 369.20,876.82 369.90,877.48 370.60,876.29 371.30,874.99 372.00,877.60 372.70,876.22 373.40,876.93 374.10,876.86 374.80,879.35 375.50,880.32 376.20,884.56 376.90,882.98 377.60,879.12 378.30,877.15 379.00,878.69 379.70,878.65 380.40,879.06 381.10,880.07 381.80,878.74 382.50,878.81 383.20,878.51 383.90,878.79 384.60,878.45 385.30,878.03 386.00,880.71 386.70,877.31 387.40,879.29 388.10,879.54 388.80,879.35 389.50,878.43 390.20,879.20 390.90,879.03 391.60,878.56 392.30,879.57 393.00,879.32 393.70,879.27 394.40,880.46 395.10,878.98 395.80,880.41 396.50,879.54 397.20,880.55 397.90,880.31 398.60,880.55 399.30,879.53 400.00,879.79 400.70,879.80 401.40,880.80 402.10,881.39 402.80,881.77 403.50,880.42 404.20,881.03 404.90,879.57 405.60,879.10 406.30,880.39 407.00,880.64 407.70,879.91 408.40,879.78 409.10,881.92 409.80,880.78 410.50,880.06 411.20,883.71 411.90,881.84 412.60,881.46 413.30,882.41 414.00,881.17 414.70,883.33 415.40,880.57 416.10,880.83 416.80,881.92 417.50,881.40 418.20,883.39 418.90,880.72 419.60,881.54 420.30,882.44 421.00,882.76 421.70,883.18 422.40,882.61 423.10,884.30 423.80,881.91 424.50,882.51 425.20,883.13 425.90,882.08 426.60,882.11 427.30,881.95 428.00,881.79 428.70,881.34 429.40,881.83 430.10,880.91 430.80,882.61 431.50,880.80 432.20,884.04 432.90,883.66 433.60,883.08 434.30,881.84 435.00,881.43 435.70,882.99 436.40,881.98 437.10,882.24 437.80,881.01 438.50,882.52 439.20,880.75 439.90,881.47 440.60,879.72 441.30,880.58 442.00,881.51 442.70,880.55 443.40,880.44 444.10,881.43 444.80,880.53 445.50,881.59 446.20,878.18 446.90,880.73 447.60,880.55 448.30,878.58 449.00,878.66 449.70,880.48 450.40,878.59 451.10,878.84 451.80,879.81 452.50,878.83 453.20,879.42 453.90,878.07 454.60,878.97 455.30,879.53 456.00,878.70 456.70,876.30 457.40,878.70 458.10,878.03 458.80,877.02 459.50,878.93 460.20,875.98 460.90,879.08 461.60,876.69 462.30,878.52 463.00,876.93 463.70,875.64 464.40,876.78 465.10,876.86 465.80,876.91 466.50,877.25 467.20,875.36 467.90,876.48 468.60,876.57 469.30,875.55 470.00,874.83 470.70,874.70 471.40,876.11 472.10,876.05 472.80,874.48 473.50,873.92 474.20,876.13 474.90,873.54 475.60,874.98 476.30,874.03 477.00,873.09 477.70,874.70 478.40,874.34 479.10,875.73 479.80,876.42 480.50,874.15 481.20,875.19 481.90,875.16 482.60,873.71 483.30,873.36 484.00,875.55 484.70,873.76 485.40,874.04 486.10,873.79 486.80,873.93 487.50,873.53 488.20,874.84 488.90,875.47 489.60,874.25 490.30,873.67 491.00,875.34 491.70,874.41 492.40,875.68 493.10,877.92 493.80,879.52 494.50,878.45 495.20,877.88 495.90,880.30 496.60,878.39 497.30,880.63 498.00,883.74 498.70,884.64 499.40,884.75 500.10,886.83 500.80,891.68 501.50,893.65 502.20,896.06 502.90,900.09 503.60,903.19 504.30,906.38 505.00,913.06 505.70,915.36 506.40,918.82 507.10,921.67 507.80,924.13 508.50,920.83 509.20,917.63 509.90,912.25 510.60,909.67 511.30,904.38 512.00,900.17 512.70,895.24 513.40,892.68 514.10,891.56 514.80,891.06 515.50,884.59 516.20,882.21 516.90,880.96 517.60,878.74 518.30,875.56 519.00,874.32 519.70,871.19 520.40,871.08 521.10,871.26 521.80,871.46 522.50,869.81 523.20,869.78 523.90,870.52 524.60,871.26 525.30,870.90 526.00,870.03 526.70,871.29 527.40,872.15 528.10,870.99 528.80,870.80 529.50,872.85 530.20,873.15 530.90,874.31 531.60,874.75 532.30,875.83 533.00,878.15 533.70,880.01 534.40,882.61 535.10,885.51 535.80,888.02 536.50,891.67 537.20,891.43 537.90,893.87 538.60,894.17 539.30,896.37 540.00,895.59 540.70,895.32 541.40,896.66 542.10,896.25 542.80,896.01 543.50,898.03 544.20,897.50 544.90,898.60 545.60,898.26 546.30,898.07 547.00,897.62 547.70,896.64 548.40,898.34 549.10,897.84 549.80,898.43 550.50,897.84 551.20,897.24 551.90,896.92 552.60,898.35 553.30,898.74 554.00,897.13 554.70,897.55 555.40,898.10 556.10,895.78 556.80,895.86 557.50,894.76 558.20,896.37 558.90,895.08 559.60,893.94 560.30,892.35 561.00,893.13 561.70,893.61 562.40,891.88 563.10,891.17 563.80,891.51 564.50,889.22 565.20,889.75 565.90,889.61 566.60,887.76 567.30,887.09 568.00,887.40 568.70,886.28 569.40,885.19 570.10,884.48 570.80,883.30 571.50,880.99 572.20,879.89 572.90,879.53 573.60,878.78 574.30,877.66 575.00,874.42 575.70,874.97 576.40,873.58 577.10,871.92 577.80,871.59 578.50,871.28 579.20,871.73 579.90,869.03 580.60,870.60 581.30,870.30 582.00,870.83 582.70,872.84 583.40,873.53 584.10,873.04 584.80,874.98 585.50,876.84 586.20,876.88 586.90,880.47 587.60,881.25 588.30,883.09 589.00,884.87 589.70,887.79 590.40,887.76 591.10,888.88 591.80,892.13 592.50,891.40 593.20,892.57 593.90,892.98 594.60,896.33 595.30,896.75 596.00,898.06 596.70,898.91 597.40,899.76 598.10,900.30 598.80,901.43 599.50,903.64 600.20,904.50 600.90,906.99 601.60,906.03 602.30,907.47 603.00,908.20 603.70,911.58 604.40,910.53 605.10,913.62 605.80,915.56 606.50,915.54 607.20,917.75 607.90,916.79 608.60,920.01 609.30,920.60 610.00,923.94 610.70,925.48 611.40,926.85 612.10,930.39 612.80,931.14 613.50,929.98 614.20,927.09 614.90,922.09 615.60,919.29 616.30,917.16 617.00,910.09 617.70,906.99 618.40,903.27 619.10,902.29 619.80,899.83 620.50,897.15 621.20,893.75 621.90,892.92 622.60,892.54 623.30,889.43 624.00,888.44 624.70,885.76 625.40,882.92 626.10,883.43 626.80,881.89 627.50,879.73 628.20,878.65 628.90,878.06 629.60,876.20 630.30,876.05 631.00,874.69 631.70,872.01 632.40,873.33 633.10,872.39 633.80,871.76 634.50,872.56 635.20,871.59 635.90,872.47 636.60,873.38 637.30,873.48 638.00,873.28 638.70,875.53 639.40,878.56 640.10,878.96 640.80,879.65 641.50,881.03 642.20,881.72 642.90,881.45 643.60,881.67 644.30,880.18 645.00,880.42 645.70,880.15 646.40,880.01 647.10,877.77 647.80,879.00 648.50,877.55 649.20,879.48 649.90,879.11 650.60,878.68 651.30,877.35 652.00,875.63 652.70,876.34 653.40,874.72 654.10,874.87 654.80,872.95 655.50,872.68 656.20,873.07 656.90,873.71 657.60,871.62" fill="none" stroke="#dc1a1a" stroke-width="3.8" stroke-linejoin="round" stroke-linecap="round"/>
<rect x="76.60" y="710.70" width="584.00" height="4.00" fill="#000"/>
<rect x="76.60" y="1181.00" width="584.00" height="4.00" fill="#000"/>
<rect x="76.60" y="710.70" width="3.60" height="474.30" fill="#000"/>
<rect x="657.00" y="710.70" width="3.60" height="474.30" fill="#000"/>
<rect x="258.40" y="1173.00" width="3.00" height="10.00" fill="#000"/>
<rect x="439.90" y="1173.00" width="3.00" height="10.00" fill="#000"/>
<rect x="621.40" y="1173.00" width="3.00" height="10.00" fill="#000"/>
<rect x="167.65" y="1178.00" width="3.00" height="5.00" fill="#000"/>
<rect x="349.15" y="1178.00" width="3.00" height="5.00" fill="#000"/>
<rect x="530.65" y="1178.00" width="3.00" height="5.00" fill="#000"/>
<line x1="181.00" y1="1063.00" x2="223.50" y2="1083.62" stroke="#000" stroke-width="2.4"/>
<polygon points="237.90,1090.60 218.21,1089.94 225.20,1075.55" fill="#000"/>
<line x1="507.70" y1="926.00" x2="456.77" y2="961.12" stroke="#000" stroke-width="2.4"/>
<polygon points="443.60,970.20 453.88,953.40 462.96,966.57" fill="#000"/>
<line x1="613.30" y1="933.00" x2="592.70" y2="979.38" stroke="#000" stroke-width="2.4"/>
<polygon points="586.20,994.00 586.20,974.30 600.82,980.80" fill="#000"/>
<text transform="translate(58.16,685.79) scale(1.0191,1)" font-size="36.12" font-weight="bold" stroke="#fff" stroke-width="0.6" fill="#000">(c)</text>
<text transform="translate(263.59,765.80) scale(0.9860,1)" font-size="36.05" stroke="#fff" stroke-width="0.5" fill="#000">EEG paper</text>
<g transform="translate(380.64,1015.86) scale(1.0548,1)" fill="#000">
<text font-size="34.31" stroke="#fff" stroke-width="0.5" xml:space="preserve"> 635</text>
<path transform="translate(0.000,0) scale(0.01675)" d="M763 0L583 0L583 -1147Q518 -1085 413 -1023Q308 -961 224 -930L224 -1104Q375 -1175 488 -1276Q601 -1377 648 -1472L763 -1472Z" stroke="#fff" stroke-width="29.85"/>
</g>
<text transform="translate(381.24,1058.93) scale(0.9647,1)" font-size="36.58" stroke="#fff" stroke-width="0.5" fill="#000">O=C-O</text>
<g transform="translate(526.28,1033.06) scale(1.0447,1)" fill="#000">
<text font-size="34.31" stroke="#fff" stroke-width="0.5" xml:space="preserve"> 049</text>
<path transform="translate(0.000,0) scale(0.01675)" d="M763 0L583 0L583 -1147Q518 -1085 413 -1023Q308 -961 224 -930L224 -1104Q375 -1175 488 -1276Q601 -1377 648 -1472L763 -1472Z" stroke="#fff" stroke-width="29.85"/>
</g>
<text transform="translate(525.77,1075.25) scale(1.0142,1)" font-size="35.31" stroke="#fff" stroke-width="0.5" fill="#000">C-O</text>
<text transform="translate(246.14,1093.04) scale(0.9916,1)" font-size="36.02" stroke="#fff" stroke-width="0.5" fill="#000">3423</text>
<text transform="translate(245.22,1135.05) scale(1.0263,1)" font-size="35.03" stroke="#fff" stroke-width="0.5" fill="#000">-OH</text>
<text transform="translate(32.68,1227.01) scale(1.0225,1)" font-size="39.27" stroke="#fff" stroke-width="0.5" fill="#000">4000</text>
<text transform="translate(215.41,1227.01) scale(1.0011,1)" font-size="39.27" stroke="#fff" stroke-width="0.5" fill="#000">3000</text>
<text transform="translate(396.12,1227.01) scale(1.0068,1)" font-size="39.27" stroke="#fff" stroke-width="0.5" fill="#000">2000</text>
<g transform="translate(577.02,1227.02) scale(1.0508,1)" fill="#000">
<text font-size="38.15" stroke="#fff" stroke-width="0.5" xml:space="preserve"> 000</text>
<path transform="translate(0.000,0) scale(0.01863)" d="M763 0L583 0L583 -1147Q518 -1085 413 -1023Q308 -961 224 -930L224 -1104Q375 -1175 488 -1276Q601 -1377 648 -1472L763 -1472Z" stroke="#fff" stroke-width="26.84"/>
</g>
<text transform="translate(162.98,1271.58) scale(1.0506,1)" font-size="41.90" stroke="#fff" stroke-width="0.5" fill="#000">Wavenumbers</text>
<text transform="translate(457.88,1272.25) scale(0.8713,1)" font-size="35.52" stroke="#fff" stroke-width="0.5" fill="#000">(</text>
<text transform="translate(469.05,1272.16) scale(1.0089,1)" font-size="43.61" stroke="#fff" stroke-width="0.5" fill="#000">cm</text>
<rect x="528.60" y="1249.00" width="13.10" height="3.70" fill="#000"/>
<g transform="translate(542.04,1262.90) scale(0.9862,1)" fill="#000">
<path transform="translate(0.000,0) scale(0.02201)" d="M763 0L583 0L583 -1147Q518 -1085 413 -1023Q308 -961 224 -930L224 -1104Q375 -1175 488 -1276Q601 -1377 648 -1472L763 -1472Z" stroke="#fff" stroke-width="22.72"/>
</g>
<text transform="translate(568.71,1272.49) scale(0.9122,1)" font-size="34.33" stroke="#fff" stroke-width="0.5" fill="#000">)</text>
<text transform="translate(46.90,1148.38) rotate(-90) scale(1.0047,1)" font-size="44.48" stroke="#fff" stroke-width="0.5" fill="#000">Transmittance (a.u.)</text>
<polyline points="819.00,1131.50 820.00,1131.51 821.00,1131.51 822.00,1131.52 823.00,1131.52 824.00,1131.53 825.00,1131.53 826.00,1131.54 827.00,1131.54 828.00,1131.55 829.00,1131.55 830.00,1131.56 831.00,1131.56 832.00,1131.57 833.00,1131.57 834.00,1131.58 835.00,1131.58 836.00,1131.59 837.00,1131.59 838.00,1131.60 839.00,1131.60 840.00,1131.61 841.00,1131.61 842.00,1131.62 843.00,1131.62 844.00,1131.63 845.00,1131.63 846.00,1131.64 847.00,1131.64 848.00,1131.65 849.00,1131.65 850.00,1131.66 851.00,1131.66 852.00,1131.67 853.00,1131.67 854.00,1131.68 855.00,1131.68 856.00,1131.69 857.00,1131.69 858.00,1131.70 859.00,1131.70 860.00,1131.71 861.00,1131.71 862.00,1131.72 863.00,1131.72 864.00,1131.73 865.00,1131.73 866.00,1131.74 867.00,1131.74 868.00,1131.74 869.00,1131.75 870.00,1131.75 871.00,1131.76 872.00,1131.76 873.00,1131.77 874.00,1131.77 875.00,1131.78 876.00,1131.78 877.00,1131.79 878.00,1131.79 879.00,1131.80 880.00,1131.80 881.00,1131.81 882.00,1131.81 883.00,1131.81 884.00,1131.82 885.00,1131.82 886.00,1131.83 887.00,1131.83 888.00,1131.84 889.00,1131.84 890.00,1131.85 891.00,1131.85 892.00,1131.86 893.00,1131.86 894.00,1131.86 895.00,1131.87 896.00,1131.87 897.00,1131.88 898.00,1131.88 899.00,1131.89 900.00,1131.89 901.00,1131.90 902.00,1131.90 903.00,1131.91 904.00,1131.91 905.00,1131.92 906.00,1131.92 907.00,1131.92 908.00,1131.93 909.00,1131.93 910.00,1131.94 911.00,1131.94 912.00,1131.95 913.00,1131.95 914.00,1131.96 915.00,1131.96 916.00,1131.97 917.00,1131.97 918.00,1131.98 919.00,1131.98 920.00,1131.99 921.00,1131.99 922.00,1131.99 923.00,1132.00 924.00,1132.00 925.00,1132.01 926.00,1132.01 927.00,1132.02 928.00,1132.02 929.00,1132.03 930.00,1132.03 931.00,1132.04 932.00,1132.04 933.00,1132.05 934.00,1132.05 935.00,1132.06 936.00,1132.06 937.00,1132.07 938.00,1132.07 939.00,1132.08 940.00,1132.08 941.00,1132.09 942.00,1132.09 943.00,1132.10 944.00,1132.10 945.00,1132.11 946.00,1132.11 947.00,1132.12 948.00,1132.12 949.00,1132.13 950.00,1132.13 951.00,1132.14 952.00,1132.14 953.00,1132.15 954.00,1132.15 955.00,1132.16 956.00,1132.16 957.00,1132.17 958.00,1132.17 959.00,1132.18 960.00,1132.18 961.00,1132.19 962.00,1132.19 963.00,1132.20 964.00,1132.20 965.00,1132.21 966.00,1132.22 967.00,1132.22 968.00,1132.23 969.00,1132.23 970.00,1132.24 971.00,1132.24 972.00,1132.25 973.00,1132.25 974.00,1132.26 975.00,1132.27 976.00,1132.27 977.00,1132.28 978.00,1132.28 979.00,1132.29 980.00,1132.29 981.00,1132.30 982.00,1132.31 983.00,1132.31 984.00,1132.32 985.00,1132.32 986.00,1132.33 987.00,1132.33 988.00,1132.34 989.00,1132.35 990.00,1132.35 991.00,1132.36 992.00,1132.37 993.00,1132.37 994.00,1132.38 995.00,1132.38 996.00,1132.39 997.00,1132.40 998.00,1132.40 999.00,1132.41 1000.00,1132.42 1001.00,1132.42 1002.00,1132.43 1003.00,1132.43 1004.00,1132.44 1005.00,1132.45 1006.00,1132.45 1007.00,1132.46 1008.00,1132.47 1009.00,1132.47 1010.00,1132.48 1011.00,1132.49 1012.00,1132.49 1013.00,1132.50 1014.00,1132.51 1015.00,1132.51 1016.00,1132.52 1017.00,1132.53 1018.00,1132.54 1019.00,1132.54 1020.00,1132.55 1021.00,1132.56 1022.00,1132.56 1023.00,1132.57 1024.00,1132.58 1025.00,1132.59 1026.00,1132.59 1027.00,1132.60 1028.00,1132.61 1029.00,1132.62 1030.00,1132.62 1031.00,1132.63 1032.00,1132.64 1033.00,1132.65 1034.00,1132.65 1035.00,1132.66 1036.00,1132.67 1037.00,1132.68 1038.00,1132.68 1039.00,1132.69 1040.00,1132.70 1041.00,1132.71 1042.00,1132.72 1043.00,1132.72 1044.00,1132.73 1045.00,1132.74 1046.00,1132.75 1047.00,1132.76 1048.00,1132.76 1049.00,1132.77 1050.00,1132.78 1051.00,1132.79 1052.00,1132.80 1053.00,1132.81 1054.00,1132.81 1055.00,1132.82 1056.00,1132.83 1057.00,1132.84 1058.00,1132.85 1059.00,1132.86 1060.00,1132.87 1061.00,1132.87 1062.00,1132.88 1063.00,1132.89 1064.00,1132.90 1065.00,1132.91 1066.00,1132.92 1067.00,1132.93 1068.00,1132.94 1069.00,1132.95 1070.00,1132.96 1071.00,1132.97 1072.00,1132.98 1073.00,1132.99 1074.00,1133.00 1075.00,1133.01 1076.00,1133.02 1077.00,1133.03 1078.00,1133.04 1079.00,1133.05 1080.00,1133.06 1081.00,1133.07 1082.00,1133.08 1083.00,1133.09 1084.00,1133.10 1085.00,1133.12 1086.00,1133.13 1087.00,1133.14 1088.00,1133.15 1089.00,1133.16 1090.00,1133.18 1091.00,1133.19 1092.00,1133.20 1093.00,1133.22 1094.00,1133.23 1095.00,1133.24 1096.00,1133.26 1097.00,1133.27 1098.00,1133.28 1099.00,1133.30 1100.00,1133.31 1101.00,1133.33 1102.00,1133.34 1103.00,1133.36 1104.00,1133.37 1105.00,1133.39 1106.00,1133.40 1107.00,1133.42 1108.00,1133.43 1109.00,1133.45 1110.00,1133.47 1111.00,1133.48 1112.00,1133.50 1113.00,1133.52 1114.00,1133.54 1115.00,1133.55 1116.00,1133.57 1117.00,1133.59 1118.00,1133.61 1119.00,1133.63 1120.00,1133.65 1121.00,1133.67 1122.00,1133.69 1123.00,1133.71 1124.00,1133.73 1125.00,1133.75 1126.00,1133.78 1127.00,1133.80 1128.00,1133.83 1129.00,1133.86 1130.00,1133.89 1131.00,1133.92 1132.00,1133.96 1133.00,1133.99 1134.00,1134.03 1135.00,1134.07 1136.00,1134.11 1137.00,1134.15 1138.00,1134.19 1139.00,1134.24 1140.00,1134.28 1141.00,1134.32 1142.00,1134.37 1143.00,1134.42 1144.00,1134.47 1145.00,1134.52 1146.00,1134.57 1147.00,1134.62 1148.00,1134.67 1149.00,1134.72 1150.00,1134.78 1151.00,1134.83 1152.00,1134.89 1153.00,1134.94 1154.00,1135.00 1155.00,1135.06 1156.00,1135.11 1157.00,1135.17 1158.00,1135.23 1159.00,1135.29 1160.00,1135.35 1161.00,1135.41 1162.00,1135.46 1163.00,1135.52 1164.00,1135.58 1165.00,1135.64 1166.00,1135.70 1167.00,1135.76 1168.00,1135.82 1169.00,1135.89 1170.00,1135.95 1171.00,1136.01 1172.00,1136.07 1173.00,1136.13 1174.00,1136.18 1175.00,1136.24 1176.00,1136.30 1177.00,1136.36 1178.00,1136.42 1179.00,1136.48 1180.00,1136.54 1181.00,1136.59 1182.00,1136.65 1183.00,1136.71 1184.00,1136.76 1185.00,1136.82 1186.00,1136.87 1187.00,1136.92 1188.00,1136.98 1189.00,1137.03 1190.00,1137.08 1191.00,1137.13 1192.00,1137.18 1193.00,1137.23 1194.00,1137.28 1195.00,1137.33 1196.00,1137.38 1197.00,1137.43 1198.00,1137.48 1199.00,1137.53 1200.00,1137.58 1201.00,1137.62 1202.00,1137.67 1203.00,1137.72 1204.00,1137.77 1205.00,1137.82 1206.00,1137.87 1207.00,1137.92 1208.00,1137.98 1209.00,1138.03 1210.00,1138.08 1211.00,1138.13 1212.00,1138.19 1213.00,1138.24 1214.00,1138.30 1215.00,1138.35 1216.00,1138.41 1217.00,1138.47 1218.00,1138.53 1219.00,1138.59 1220.00,1138.65 1221.00,1138.72 1222.00,1138.78 1223.00,1138.85 1224.00,1138.92 1225.00,1138.98 1226.00,1139.06 1227.00,1139.13 1228.00,1139.20 1229.00,1139.28 1230.00,1139.36 1231.00,1139.43 1232.00,1139.52 1233.00,1139.60 1234.00,1139.69 1235.00,1139.77 1236.00,1139.86 1237.00,1139.96 1238.00,1140.06 1239.00,1140.18 1240.00,1140.31 1241.00,1140.45 1242.00,1140.59 1243.00,1140.75 1244.00,1140.91 1245.00,1141.08 1246.00,1141.26 1247.00,1141.44 1248.00,1141.63 1249.00,1141.82 1250.00,1142.02 1251.00,1142.21 1252.00,1142.41 1253.00,1142.61 1254.00,1142.81 1255.00,1143.01 1256.00,1143.20 1257.00,1143.40 1258.00,1143.59 1259.00,1143.78 1260.00,1143.96 1261.00,1144.14 1262.00,1144.31 1263.00,1144.47 1264.00,1144.63 1265.00,1144.78 1266.00,1144.92 1267.00,1145.05 1268.00,1145.17 1269.00,1145.30 1270.00,1145.42 1271.00,1145.54 1272.00,1145.67 1273.00,1145.79 1274.00,1145.91 1275.00,1146.03 1276.00,1146.15 1277.00,1146.26 1278.00,1146.37 1279.00,1146.47 1280.00,1146.57 1281.00,1146.67 1282.00,1146.75 1283.00,1146.83 1284.00,1146.90 1285.00,1146.97 1286.00,1147.02 1287.00,1147.06 1288.00,1147.10 1289.00,1147.12 1290.00,1147.15 1291.00,1147.17 1292.00,1147.20 1293.00,1147.22 1294.00,1147.25 1295.00,1147.27 1296.00,1147.29 1297.00,1147.31 1298.00,1147.33 1299.00,1147.35 1300.00,1147.37 1301.00,1147.39 1302.00,1147.41 1303.00,1147.42 1304.00,1147.44 1305.00,1147.46 1306.00,1147.47 1307.00,1147.49 1308.00,1147.50 1309.00,1147.52 1310.00,1147.53 1311.00,1147.55 1312.00,1147.56 1313.00,1147.57 1314.00,1147.58 1315.00,1147.60 1316.00,1147.61 1317.00,1147.62 1318.00,1147.63 1319.00,1147.64 1320.00,1147.65 1321.00,1147.66 1322.00,1147.67 1323.00,1147.68 1324.00,1147.69 1325.00,1147.70 1326.00,1147.71 1327.00,1147.71 1328.00,1147.72 1329.00,1147.73 1330.00,1147.74 1331.00,1147.74 1332.00,1147.75 1333.00,1147.76 1334.00,1147.76 1335.00,1147.77 1336.00,1147.78 1337.00,1147.78 1338.00,1147.79 1339.00,1147.80 1340.00,1147.80 1341.00,1147.81 1342.00,1147.81 1343.00,1147.82 1344.00,1147.82 1345.00,1147.83 1346.00,1147.83 1347.00,1147.84 1348.00,1147.84 1349.00,1147.85 1350.00,1147.85 1351.00,1147.86 1352.00,1147.86 1353.00,1147.86 1354.00,1147.87 1355.00,1147.87 1356.00,1147.88 1357.00,1147.88 1358.00,1147.88 1359.00,1147.89 1360.00,1147.89 1361.00,1147.90 1362.00,1147.90 1363.00,1147.90 1364.00,1147.91 1365.00,1147.91 1366.00,1147.91 1367.00,1147.91 1368.00,1147.92 1369.00,1147.92 1370.00,1147.92 1371.00,1147.93 1372.00,1147.93 1373.00,1147.93 1374.00,1147.94 1375.00,1147.94 1376.00,1147.94 1377.00,1147.95 1378.00,1147.95 1379.00,1147.95 1380.00,1147.95 1381.00,1147.96 1382.00,1147.96 1383.00,1147.96 1384.00,1147.97 1385.00,1147.97 1386.00,1147.97 1387.00,1147.98 1388.00,1147.98 1389.00,1147.98 1390.00,1147.99 1391.00,1147.99 1392.00,1147.99 1393.00,1148.00" fill="none" stroke="#000" stroke-width="3.0" stroke-linejoin="round" stroke-linecap="round"/>
<polyline points="940.00,1131.00 941.00,1130.94 942.00,1130.87 943.00,1130.81 944.00,1130.74 945.00,1130.67 946.00,1130.60 947.00,1130.53 948.00,1130.46 949.00,1130.38 950.00,1130.31 951.00,1130.24 952.00,1130.16 953.00,1130.09 954.00,1130.01 955.00,1129.94 956.00,1129.87 957.00,1129.79 958.00,1129.72 959.00,1129.65 960.00,1129.57 961.00,1129.50 962.00,1129.43 963.00,1129.37 964.00,1129.30 965.00,1129.23 966.00,1129.17 967.00,1129.10 968.00,1129.04 969.00,1128.98 970.00,1128.93 971.00,1128.87 972.00,1128.82 973.00,1128.77 974.00,1128.72 975.00,1128.68 976.00,1128.64 977.00,1128.60 978.00,1128.56 979.00,1128.53 980.00,1128.50 981.00,1128.47 982.00,1128.45 983.00,1128.42 984.00,1128.39 985.00,1128.37 986.00,1128.35 987.00,1128.32 988.00,1128.30 989.00,1128.28 990.00,1128.25 991.00,1128.23 992.00,1128.21 993.00,1128.19 994.00,1128.17 995.00,1128.15 996.00,1128.13 997.00,1128.11 998.00,1128.09 999.00,1128.07 1000.00,1128.05 1001.00,1128.03 1002.00,1128.02 1003.00,1128.00 1004.00,1127.98 1005.00,1127.97 1006.00,1127.95 1007.00,1127.93 1008.00,1127.92 1009.00,1127.90 1010.00,1127.89 1011.00,1127.87 1012.00,1127.86 1013.00,1127.84 1014.00,1127.83 1015.00,1127.82 1016.00,1127.80 1017.00,1127.79 1018.00,1127.77 1019.00,1127.76 1020.00,1127.75 1021.00,1127.73 1022.00,1127.72 1023.00,1127.71 1024.00,1127.70 1025.00,1127.68 1026.00,1127.67 1027.00,1127.66 1028.00,1127.65 1029.00,1127.63 1030.00,1127.62 1031.00,1127.61 1032.00,1127.60 1033.00,1127.59 1034.00,1127.57 1035.00,1127.56 1036.00,1127.55 1037.00,1127.54 1038.00,1127.52 1039.00,1127.51 1040.00,1127.50 1041.00,1127.49 1042.00,1127.47 1043.00,1127.46 1044.00,1127.45 1045.00,1127.44 1046.00,1127.42 1047.00,1127.41 1048.00,1127.40 1049.00,1127.38 1050.00,1127.37 1051.00,1127.36 1052.00,1127.34 1053.00,1127.33 1054.00,1127.31 1055.00,1127.30 1056.00,1127.29 1057.00,1127.27 1058.00,1127.26 1059.00,1127.25 1060.00,1127.23 1061.00,1127.22 1062.00,1127.21 1063.00,1127.20 1064.00,1127.18 1065.00,1127.17 1066.00,1127.16 1067.00,1127.15 1068.00,1127.14 1069.00,1127.13 1070.00,1127.12 1071.00,1127.11 1072.00,1127.10 1073.00,1127.09 1074.00,1127.08 1075.00,1127.07 1076.00,1127.06 1077.00,1127.05 1078.00,1127.05 1079.00,1127.04 1080.00,1127.03 1081.00,1127.03 1082.00,1127.02 1083.00,1127.02 1084.00,1127.01 1085.00,1127.01 1086.00,1127.01 1087.00,1127.00 1088.00,1127.00 1089.00,1127.00 1090.00,1127.00 1091.00,1127.00 1092.00,1127.00 1093.00,1127.00 1094.00,1127.01 1095.00,1127.01 1096.00,1127.02 1097.00,1127.02 1098.00,1127.03 1099.00,1127.04 1100.00,1127.05 1101.00,1127.06 1102.00,1127.07 1103.00,1127.08 1104.00,1127.09 1105.00,1127.10 1106.00,1127.12 1107.00,1127.13 1108.00,1127.15 1109.00,1127.17 1110.00,1127.18 1111.00,1127.20 1112.00,1127.22 1113.00,1127.24 1114.00,1127.26 1115.00,1127.28 1116.00,1127.30 1117.00,1127.32 1118.00,1127.35 1119.00,1127.37 1120.00,1127.39 1121.00,1127.42 1122.00,1127.44 1123.00,1127.47 1124.00,1127.50 1125.00,1127.52 1126.00,1127.55 1127.00,1127.58 1128.00,1127.61 1129.00,1127.64 1130.00,1127.67 1131.00,1127.70 1132.00,1127.73 1133.00,1127.76 1134.00,1127.80 1135.00,1127.83 1136.00,1127.86 1137.00,1127.90 1138.00,1127.93 1139.00,1127.96 1140.00,1128.00 1141.00,1128.04 1142.00,1128.08 1143.00,1128.14 1144.00,1128.19 1145.00,1128.26 1146.00,1128.33 1147.00,1128.40 1148.00,1128.48 1149.00,1128.57 1150.00,1128.66 1151.00,1128.75 1152.00,1128.85 1153.00,1128.95 1154.00,1129.06 1155.00,1129.17 1156.00,1129.28 1157.00,1129.39 1158.00,1129.51 1159.00,1129.63 1160.00,1129.75 1161.00,1129.87 1162.00,1130.00 1163.00,1130.12 1164.00,1130.25 1165.00,1130.37 1166.00,1130.50 1167.00,1130.62 1168.00,1130.75 1169.00,1130.88 1170.00,1131.00 1171.00,1131.13 1172.00,1131.26 1173.00,1131.40 1174.00,1131.54 1175.00,1131.68 1176.00,1131.84 1177.00,1131.99 1178.00,1132.15 1179.00,1132.31 1180.00,1132.47 1181.00,1132.64 1182.00,1132.80 1183.00,1132.97 1184.00,1133.14 1185.00,1133.31 1186.00,1133.49 1187.00,1133.66 1188.00,1133.83 1189.00,1134.00 1190.00,1134.17 1191.00,1134.34 1192.00,1134.51 1193.00,1134.67 1194.00,1134.84" fill="none" stroke="#2ab4b4" stroke-width="3.2" stroke-linejoin="round" stroke-linecap="round"/>
<polyline points="960.00,1132.00 961.00,1131.98 962.00,1131.96 963.00,1131.94 964.00,1131.92 965.00,1131.91 966.00,1131.89 967.00,1131.87 968.00,1131.85 969.00,1131.83 970.00,1131.81 971.00,1131.79 972.00,1131.77 973.00,1131.75 974.00,1131.74 975.00,1131.72 976.00,1131.70 977.00,1131.68 978.00,1131.66 979.00,1131.64 980.00,1131.62 981.00,1131.60 982.00,1131.58 983.00,1131.56 984.00,1131.54 985.00,1131.53 986.00,1131.51 987.00,1131.49 988.00,1131.47 989.00,1131.45 990.00,1131.43 991.00,1131.41 992.00,1131.39 993.00,1131.37 994.00,1131.35 995.00,1131.33 996.00,1131.31 997.00,1131.30 998.00,1131.28 999.00,1131.26 1000.00,1131.24 1001.00,1131.22 1002.00,1131.20 1003.00,1131.18 1004.00,1131.16 1005.00,1131.14 1006.00,1131.12 1007.00,1131.11 1008.00,1131.09 1009.00,1131.07 1010.00,1131.05 1011.00,1131.03 1012.00,1131.01 1013.00,1130.99 1014.00,1130.97 1015.00,1130.96 1016.00,1130.94 1017.00,1130.92 1018.00,1130.90 1019.00,1130.88 1020.00,1130.86 1021.00,1130.84 1022.00,1130.83 1023.00,1130.81 1024.00,1130.79 1025.00,1130.77 1026.00,1130.75 1027.00,1130.73 1028.00,1130.72 1029.00,1130.70 1030.00,1130.68 1031.00,1130.66 1032.00,1130.64 1033.00,1130.62 1034.00,1130.61 1035.00,1130.59 1036.00,1130.57 1037.00,1130.55 1038.00,1130.54 1039.00,1130.52 1040.00,1130.50 1041.00,1130.48 1042.00,1130.47 1043.00,1130.45 1044.00,1130.43 1045.00,1130.41 1046.00,1130.40 1047.00,1130.38 1048.00,1130.36 1049.00,1130.35 1050.00,1130.33 1051.00,1130.31 1052.00,1130.30 1053.00,1130.28 1054.00,1130.26 1055.00,1130.25 1056.00,1130.23 1057.00,1130.21 1058.00,1130.20 1059.00,1130.18 1060.00,1130.17 1061.00,1130.15 1062.00,1130.13 1063.00,1130.12 1064.00,1130.10 1065.00,1130.08 1066.00,1130.07 1067.00,1130.05 1068.00,1130.04 1069.00,1130.02 1070.00,1130.00 1071.00,1129.99 1072.00,1129.97 1073.00,1129.96 1074.00,1129.94 1075.00,1129.92 1076.00,1129.91 1077.00,1129.89 1078.00,1129.88 1079.00,1129.86 1080.00,1129.84 1081.00,1129.83 1082.00,1129.81 1083.00,1129.79 1084.00,1129.78 1085.00,1129.76 1086.00,1129.74 1087.00,1129.73 1088.00,1129.71 1089.00,1129.69 1090.00,1129.68 1091.00,1129.66 1092.00,1129.64 1093.00,1129.62 1094.00,1129.61 1095.00,1129.59 1096.00,1129.57 1097.00,1129.55 1098.00,1129.54 1099.00,1129.52 1100.00,1129.50 1101.00,1129.48 1102.00,1129.46 1103.00,1129.44 1104.00,1129.43 1105.00,1129.41 1106.00,1129.39 1107.00,1129.37 1108.00,1129.35 1109.00,1129.33 1110.00,1129.31 1111.00,1129.29 1112.00,1129.27 1113.00,1129.25 1114.00,1129.23 1115.00,1129.21 1116.00,1129.19 1117.00,1129.17 1118.00,1129.15 1119.00,1129.13 1120.00,1129.11 1121.00,1129.09 1122.00,1129.07 1123.00,1129.05 1124.00,1129.03 1125.00,1129.01 1126.00,1128.99 1127.00,1128.97 1128.00,1128.95 1129.00,1128.93 1130.00,1128.91 1131.00,1128.89 1132.00,1128.87 1133.00,1128.85 1134.00,1128.83 1135.00,1128.81 1136.00,1128.78 1137.00,1128.76 1138.00,1128.74 1139.00,1128.72 1140.00,1128.70 1141.00,1128.68 1142.00,1128.66 1143.00,1128.64 1144.00,1128.62 1145.00,1128.60 1146.00,1128.58 1147.00,1128.56 1148.00,1128.54 1149.00,1128.52 1150.00,1128.50 1151.00,1128.48 1152.00,1128.46 1153.00,1128.43 1154.00,1128.41 1155.00,1128.38 1156.00,1128.36 1157.00,1128.33 1158.00,1128.31 1159.00,1128.28 1160.00,1128.25 1161.00,1128.23 1162.00,1128.20 1163.00,1128.18 1164.00,1128.15 1165.00,1128.13 1166.00,1128.11 1167.00,1128.09 1168.00,1128.07 1169.00,1128.05 1170.00,1128.04 1171.00,1128.02 1172.00,1128.01 1173.00,1128.01 1174.00,1128.00 1175.00,1128.00 1176.00,1128.01 1177.00,1128.05 1178.00,1128.11 1179.00,1128.19 1180.00,1128.29 1181.00,1128.41 1182.00,1128.55 1183.00,1128.70 1184.00,1128.86 1185.00,1129.03 1186.00,1129.21 1187.00,1129.40 1188.00,1129.60 1189.00,1129.80 1190.00,1130.00 1191.00,1130.21 1192.00,1130.41 1193.00,1130.61 1194.00,1130.81 1195.00,1131.00 1196.00,1131.19 1197.00,1131.40 1198.00,1131.61 1199.00,1131.84 1200.00,1132.07 1201.00,1132.32 1202.00,1132.57 1203.00,1132.82 1204.00,1133.08 1205.00,1133.34 1206.00,1133.61 1207.00,1133.88 1208.00,1134.15 1209.00,1134.42 1210.00,1134.69 1211.00,1134.96 1212.00,1135.23 1213.00,1135.49 1214.00,1135.75" fill="none" stroke="#4a9a6c" stroke-width="3.2" stroke-linejoin="round" stroke-linecap="round"/>
<polyline points="1030.00,1130.00 1031.00,1129.75 1032.00,1129.52 1033.00,1129.29 1034.00,1129.06 1035.00,1128.84 1036.00,1128.62 1037.00,1128.40 1038.00,1128.18 1039.00,1127.95 1040.00,1127.72 1041.00,1127.49 1042.00,1127.24 1043.00,1126.99 1044.00,1126.72 1045.00,1126.44 1046.00,1126.14 1047.00,1125.83 1048.00,1125.50 1049.00,1125.12 1050.00,1124.65 1051.00,1124.13 1052.00,1123.57 1053.00,1122.98 1054.00,1122.38 1055.00,1121.79 1056.00,1121.22 1057.00,1120.69 1058.00,1120.21 1059.00,1119.81 1060.00,1119.50 1061.00,1119.24 1062.00,1118.98 1063.00,1118.73 1064.00,1118.48 1065.00,1118.25 1066.00,1118.03 1067.00,1117.83 1068.00,1117.66 1069.00,1117.50 1070.00,1117.38 1071.00,1117.28 1072.00,1117.22 1073.00,1117.20 1074.00,1117.22 1075.00,1117.28 1076.00,1117.37 1077.00,1117.50 1078.00,1117.66 1079.00,1117.84 1080.00,1118.04 1081.00,1118.26 1082.00,1118.50 1083.00,1118.74 1084.00,1119.00 1085.00,1119.25 1086.00,1119.50 1087.00,1119.78 1088.00,1120.11 1089.00,1120.48 1090.00,1120.90 1091.00,1121.34 1092.00,1121.80 1093.00,1122.28 1094.00,1122.77 1095.00,1123.25 1096.00,1123.73 1097.00,1124.19 1098.00,1124.63 1099.00,1125.03 1100.00,1125.40 1101.00,1125.74 1102.00,1126.08 1103.00,1126.42 1104.00,1126.74 1105.00,1127.07 1106.00,1127.38 1107.00,1127.69 1108.00,1128.00 1109.00,1128.30 1110.00,1128.59 1111.00,1128.87 1112.00,1129.14 1113.00,1129.41 1114.00,1129.66 1115.00,1129.91 1116.00,1130.15 1117.00,1130.38 1118.00,1130.60 1119.00,1130.81 1120.00,1131.01 1121.00,1131.20 1122.00,1131.38 1123.00,1131.56 1124.00,1131.73 1125.00,1131.90 1126.00,1132.06 1127.00,1132.22 1128.00,1132.38 1129.00,1132.54 1130.00,1132.69 1131.00,1132.85 1132.00,1133.01 1133.00,1133.17 1134.00,1133.33" fill="none" stroke="#c49a2c" stroke-width="3.6" stroke-linejoin="round" stroke-linecap="round"/>
<polyline points="900.00,1131.00 901.00,1130.98 902.00,1130.96 903.00,1130.94 904.00,1130.92 905.00,1130.90 906.00,1130.88 907.00,1130.86 908.00,1130.84 909.00,1130.82 910.00,1130.80 911.00,1130.78 912.00,1130.76 913.00,1130.74 914.00,1130.72 915.00,1130.70 916.00,1130.68 917.00,1130.66 918.00,1130.64 919.00,1130.62 920.00,1130.60 921.00,1130.58 922.00,1130.56 923.00,1130.54 924.00,1130.52 925.00,1130.50 926.00,1130.49 927.00,1130.47 928.00,1130.45 929.00,1130.43 930.00,1130.41 931.00,1130.39 932.00,1130.37 933.00,1130.35 934.00,1130.33 935.00,1130.31 936.00,1130.29 937.00,1130.27 938.00,1130.25 939.00,1130.23 940.00,1130.21 941.00,1130.19 942.00,1130.17 943.00,1130.15 944.00,1130.13 945.00,1130.11 946.00,1130.09 947.00,1130.07 948.00,1130.05 949.00,1130.03 950.00,1130.01 951.00,1129.99 952.00,1129.97 953.00,1129.95 954.00,1129.93 955.00,1129.91 956.00,1129.89 957.00,1129.87 958.00,1129.85 959.00,1129.83 960.00,1129.81 961.00,1129.80 962.00,1129.78 963.00,1129.76 964.00,1129.74 965.00,1129.72 966.00,1129.70 967.00,1129.68 968.00,1129.66 969.00,1129.64 970.00,1129.62 971.00,1129.60 972.00,1129.58 973.00,1129.55 974.00,1129.53 975.00,1129.51 976.00,1129.49 977.00,1129.47 978.00,1129.45 979.00,1129.43 980.00,1129.41 981.00,1129.39 982.00,1129.37 983.00,1129.35 984.00,1129.33 985.00,1129.31 986.00,1129.29 987.00,1129.27 988.00,1129.25 989.00,1129.23 990.00,1129.21 991.00,1129.19 992.00,1129.17 993.00,1129.15 994.00,1129.13 995.00,1129.10 996.00,1129.08 997.00,1129.06 998.00,1129.04 999.00,1129.02 1000.00,1129.00 1001.00,1128.98 1002.00,1128.96 1003.00,1128.94 1004.00,1128.92 1005.00,1128.90 1006.00,1128.88 1007.00,1128.86 1008.00,1128.84 1009.00,1128.82 1010.00,1128.80 1011.00,1128.78 1012.00,1128.77 1013.00,1128.75 1014.00,1128.73 1015.00,1128.71 1016.00,1128.69 1017.00,1128.68 1018.00,1128.66 1019.00,1128.64 1020.00,1128.62 1021.00,1128.61 1022.00,1128.59 1023.00,1128.57 1024.00,1128.56 1025.00,1128.54 1026.00,1128.52 1027.00,1128.51 1028.00,1128.49 1029.00,1128.48 1030.00,1128.46 1031.00,1128.44 1032.00,1128.43 1033.00,1128.41 1034.00,1128.39 1035.00,1128.38 1036.00,1128.36 1037.00,1128.35 1038.00,1128.33 1039.00,1128.31 1040.00,1128.30 1041.00,1128.28 1042.00,1128.27 1043.00,1128.25 1044.00,1128.23 1045.00,1128.22 1046.00,1128.20 1047.00,1128.18 1048.00,1128.17 1049.00,1128.15 1050.00,1128.13 1051.00,1128.11 1052.00,1128.10 1053.00,1128.08 1054.00,1128.06 1055.00,1128.04 1056.00,1128.03 1057.00,1128.01 1058.00,1127.99 1059.00,1127.97 1060.00,1127.95 1061.00,1127.94 1062.00,1127.92 1063.00,1127.90 1064.00,1127.88 1065.00,1127.86 1066.00,1127.84 1067.00,1127.82 1068.00,1127.80 1069.00,1127.78 1070.00,1127.76 1071.00,1127.73 1072.00,1127.71 1073.00,1127.69 1074.00,1127.67 1075.00,1127.65 1076.00,1127.62 1077.00,1127.60 1078.00,1127.58 1079.00,1127.55 1080.00,1127.53 1081.00,1127.50 1082.00,1127.48 1083.00,1127.45 1084.00,1127.43 1085.00,1127.40 1086.00,1127.38 1087.00,1127.35 1088.00,1127.32 1089.00,1127.29 1090.00,1127.26 1091.00,1127.24 1092.00,1127.21 1093.00,1127.18 1094.00,1127.15 1095.00,1127.12 1096.00,1127.09 1097.00,1127.05 1098.00,1127.02 1099.00,1126.99 1100.00,1126.96 1101.00,1126.92 1102.00,1126.89 1103.00,1126.85 1104.00,1126.82 1105.00,1126.78 1106.00,1126.75 1107.00,1126.71 1108.00,1126.67 1109.00,1126.63 1110.00,1126.60 1111.00,1126.56 1112.00,1126.52 1113.00,1126.48 1114.00,1126.43 1115.00,1126.38 1116.00,1126.33 1117.00,1126.28 1118.00,1126.22 1119.00,1126.16 1120.00,1126.10 1121.00,1126.03 1122.00,1125.96 1123.00,1125.89 1124.00,1125.81 1125.00,1125.73 1126.00,1125.65 1127.00,1125.57 1128.00,1125.48 1129.00,1125.39 1130.00,1125.30 1131.00,1125.20 1132.00,1125.10 1133.00,1125.00 1134.00,1124.89 1135.00,1124.79 1136.00,1124.68 1137.00,1124.56 1138.00,1124.45 1139.00,1124.33 1140.00,1124.21 1141.00,1124.08 1142.00,1123.96 1143.00,1123.83 1144.00,1123.70 1145.00,1123.57 1146.00,1123.43 1147.00,1123.29 1148.00,1123.15 1149.00,1123.01 1150.00,1122.86 1151.00,1122.71 1152.00,1122.56 1153.00,1122.41 1154.00,1122.25 1155.00,1122.09 1156.00,1121.92 1157.00,1121.74 1158.00,1121.55 1159.00,1121.35 1160.00,1121.14 1161.00,1120.92 1162.00,1120.70 1163.00,1120.46 1164.00,1120.21 1165.00,1119.96 1166.00,1119.70 1167.00,1119.42 1168.00,1119.14 1169.00,1118.85 1170.00,1118.55 1171.00,1118.24 1172.00,1117.92 1173.00,1117.58 1174.00,1117.25 1175.00,1116.90 1176.00,1116.54 1177.00,1116.17 1178.00,1115.79 1179.00,1115.40 1180.00,1115.00 1181.00,1114.60 1182.00,1114.18 1183.00,1113.75 1184.00,1113.31 1185.00,1112.86 1186.00,1112.39 1187.00,1111.89 1188.00,1111.35 1189.00,1110.78 1190.00,1110.18 1191.00,1109.55 1192.00,1108.89 1193.00,1108.19 1194.00,1107.45 1195.00,1106.69 1196.00,1105.88 1197.00,1105.04 1198.00,1104.17 1199.00,1103.25 1200.00,1102.30 1201.00,1101.31 1202.00,1100.29 1203.00,1099.22 1204.00,1098.12 1205.00,1096.97 1206.00,1095.77 1207.00,1094.43 1208.00,1092.97 1209.00,1091.36 1210.00,1089.63 1211.00,1087.76 1212.00,1085.77 1213.00,1083.65 1214.00,1081.39 1215.00,1079.02 1216.00,1076.51 1217.00,1073.89 1218.00,1071.13 1219.00,1067.99 1220.00,1064.40 1221.00,1060.42 1222.00,1056.11 1223.00,1051.55 1224.00,1046.80 1225.00,1041.93 1226.00,1036.99 1227.00,1032.05 1228.00,1027.04 1229.00,1021.86 1230.00,1016.42 1231.00,1010.61 1232.00,1004.33 1233.00,997.50 1234.00,990.00 1235.00,980.99 1236.00,970.04 1237.00,957.69 1238.00,944.49 1239.00,930.98 1240.00,917.70 1241.00,905.20 1242.00,894.02 1243.00,884.36 1244.00,875.44 1245.00,867.04 1246.00,858.98 1247.00,851.07 1248.00,843.16 1249.00,835.05 1250.00,826.47 1251.00,817.69 1252.00,809.15 1253.00,801.26 1254.00,794.48 1255.00,788.55 1256.00,782.47 1257.00,776.64 1258.00,771.50 1259.00,767.49 1260.00,765.04 1261.00,764.57 1262.00,765.68 1263.00,768.02 1264.00,771.41 1265.00,775.65 1266.00,780.55 1267.00,785.92 1268.00,791.58 1269.00,798.13 1270.00,807.31 1271.00,818.22 1272.00,829.84 1273.00,841.29 1274.00,853.50 1275.00,866.38 1276.00,879.43 1277.00,892.14 1278.00,904.31 1279.00,916.27 1280.00,928.42 1281.00,941.12 1282.00,955.02 1283.00,970.50 1284.00,986.61 1285.00,1002.32 1286.00,1016.60 1287.00,1028.55 1288.00,1039.26 1289.00,1049.21 1290.00,1058.33 1291.00,1066.51 1292.00,1073.69 1293.00,1079.99 1294.00,1085.84 1295.00,1091.28 1296.00,1096.33 1297.00,1101.02 1298.00,1105.38 1299.00,1109.44 1300.00,1113.21 1301.00,1116.76 1302.00,1120.24 1303.00,1123.62 1304.00,1126.83 1305.00,1129.82 1306.00,1132.52 1307.00,1134.87 1308.00,1136.80 1309.00,1138.26 1310.00,1139.51 1311.00,1140.68 1312.00,1141.78 1313.00,1142.78 1314.00,1143.69 1315.00,1144.49 1316.00,1145.18 1317.00,1145.75 1318.00,1146.18 1319.00,1146.48 1320.00,1146.68 1321.00,1146.84 1322.00,1146.99 1323.00,1147.11 1324.00,1147.22 1325.00,1147.32 1326.00,1147.41 1327.00,1147.50 1328.00,1147.59 1329.00,1147.69" fill="none" stroke="#a0a0a0" stroke-width="3.2" stroke-linejoin="round" stroke-linecap="round"/>
<polyline points="1092.00,1127.00 1093.00,1126.43 1094.00,1125.90 1095.00,1125.38 1096.00,1124.85 1097.00,1124.30 1098.00,1123.70 1099.00,1123.04 1100.00,1122.30 1101.00,1121.43 1102.00,1120.41 1103.00,1119.25 1104.00,1117.97 1105.00,1116.57 1106.00,1115.08 1107.00,1113.51 1108.00,1111.86 1109.00,1110.16 1110.00,1108.42 1111.00,1106.64 1112.00,1104.85 1113.00,1103.05 1114.00,1101.27 1115.00,1099.51 1116.00,1097.78 1117.00,1096.11 1118.00,1094.50 1119.00,1092.97 1120.00,1091.53 1121.00,1090.19 1122.00,1088.97 1123.00,1087.88 1124.00,1086.81 1125.00,1085.71 1126.00,1084.61 1127.00,1083.50 1128.00,1082.39 1129.00,1081.28 1130.00,1080.17 1131.00,1079.08 1132.00,1078.00 1133.00,1076.94 1134.00,1075.91 1135.00,1074.90 1136.00,1073.93 1137.00,1073.00 1138.00,1072.11 1139.00,1071.27 1140.00,1070.49 1141.00,1069.76 1142.00,1069.09 1143.00,1068.48 1144.00,1067.95 1145.00,1067.50 1146.00,1067.12 1147.00,1066.83 1148.00,1066.63 1149.00,1066.52 1150.00,1066.51 1151.00,1066.62 1152.00,1066.84 1153.00,1067.17 1154.00,1067.61 1155.00,1068.13 1156.00,1068.73 1157.00,1069.42 1158.00,1070.17 1159.00,1070.98 1160.00,1071.85 1161.00,1072.76 1162.00,1073.71 1163.00,1074.70 1164.00,1075.70 1165.00,1076.72 1166.00,1077.75 1167.00,1078.78 1168.00,1079.80 1169.00,1080.86 1170.00,1082.08 1171.00,1083.45 1172.00,1084.94 1173.00,1086.53 1174.00,1088.21 1175.00,1089.95 1176.00,1091.75 1177.00,1093.59 1178.00,1095.43 1179.00,1097.27 1180.00,1099.09 1181.00,1100.87 1182.00,1102.59 1183.00,1104.23 1184.00,1105.78 1185.00,1107.22 1186.00,1108.66 1187.00,1110.11 1188.00,1111.58 1189.00,1113.05 1190.00,1114.50 1191.00,1115.95 1192.00,1117.36 1193.00,1118.74 1194.00,1120.07 1195.00,1121.34 1196.00,1122.56 1197.00,1123.69 1198.00,1124.74 1199.00,1125.70 1200.00,1126.56 1201.00,1127.30 1202.00,1127.95 1203.00,1128.56 1204.00,1129.15 1205.00,1129.71 1206.00,1130.25 1207.00,1130.76 1208.00,1131.24 1209.00,1131.70 1210.00,1132.13 1211.00,1132.54 1212.00,1132.93 1213.00,1133.29 1214.00,1133.63 1215.00,1133.94 1216.00,1134.23 1217.00,1134.50 1218.00,1134.75 1219.00,1134.97 1220.00,1135.18 1221.00,1135.38 1222.00,1135.56 1223.00,1135.74 1224.00,1135.90 1225.00,1136.05 1226.00,1136.20 1227.00,1136.35 1228.00,1136.49 1229.00,1136.63 1230.00,1136.76 1231.00,1136.90 1232.00,1137.04 1233.00,1137.19 1234.00,1137.34" fill="none" stroke="#a67fd0" stroke-width="3.4" stroke-linejoin="round" stroke-linecap="round"/>
<polyline points="1180.00,1132.00 1181.00,1131.51 1182.00,1131.03 1183.00,1130.57 1184.00,1130.10 1185.00,1129.64 1186.00,1129.17 1187.00,1128.70 1188.00,1128.21 1189.00,1127.70 1190.00,1127.16 1191.00,1126.60 1192.00,1126.00 1193.00,1125.33 1194.00,1124.56 1195.00,1123.71 1196.00,1122.81 1197.00,1121.87 1198.00,1120.91 1199.00,1119.95 1200.00,1119.01 1201.00,1118.10 1202.00,1117.26 1203.00,1116.50 1204.00,1115.83 1205.00,1115.28 1206.00,1114.84 1207.00,1114.42 1208.00,1114.00 1209.00,1113.59 1210.00,1113.19 1211.00,1112.80 1212.00,1112.43 1213.00,1112.07 1214.00,1111.73 1215.00,1111.41 1216.00,1111.12 1217.00,1110.85 1218.00,1110.61 1219.00,1110.41 1220.00,1110.23 1221.00,1110.09 1222.00,1109.99 1223.00,1109.92 1224.00,1109.90 1225.00,1109.94 1226.00,1110.07 1227.00,1110.27 1228.00,1110.55 1229.00,1110.89 1230.00,1111.30 1231.00,1111.76 1232.00,1112.26 1233.00,1112.81 1234.00,1113.40 1235.00,1114.02 1236.00,1114.67 1237.00,1115.34 1238.00,1116.02 1239.00,1116.72 1240.00,1117.41 1241.00,1118.11 1242.00,1118.79 1243.00,1119.48 1244.00,1120.25 1245.00,1121.13 1246.00,1122.09 1247.00,1123.13 1248.00,1124.22 1249.00,1125.35 1250.00,1126.51 1251.00,1127.68 1252.00,1128.85 1253.00,1130.00 1254.00,1131.12 1255.00,1132.20 1256.00,1133.21 1257.00,1134.15 1258.00,1134.99 1259.00,1135.73 1260.00,1136.40 1261.00,1137.06 1262.00,1137.71 1263.00,1138.34 1264.00,1138.96 1265.00,1139.57 1266.00,1140.16 1267.00,1140.73 1268.00,1141.27 1269.00,1141.80 1270.00,1142.29 1271.00,1142.76 1272.00,1143.21 1273.00,1143.62 1274.00,1143.99 1275.00,1144.34 1276.00,1144.65 1277.00,1144.91 1278.00,1145.14 1279.00,1145.35 1280.00,1145.54 1281.00,1145.71 1282.00,1145.87 1283.00,1146.02 1284.00,1146.16 1285.00,1146.29 1286.00,1146.42 1287.00,1146.54 1288.00,1146.65 1289.00,1146.77 1290.00,1146.88 1291.00,1147.00 1292.00,1147.11 1293.00,1147.24 1294.00,1147.36" fill="none" stroke="#3a70b8" stroke-width="3.4" stroke-linejoin="round" stroke-linecap="round"/>
<polyline points="1286.70,1025.20 1287.70,1033.99 1288.70,1043.16 1289.70,1052.25 1290.70,1060.82 1291.70,1068.41 1292.70,1074.76 1293.70,1080.63 1294.70,1086.18 1295.70,1091.38 1296.70,1096.22 1297.70,1100.68 1298.70,1104.74 1299.70,1108.39 1300.70,1111.61 1301.70,1114.48 1302.70,1117.07 1303.70,1119.41 1304.70,1121.52 1305.70,1123.45 1306.70,1125.23 1307.70,1126.90 1308.70,1128.47 1309.70,1129.93 1310.70,1131.28 1311.70,1132.53 1312.70,1133.68 1313.70,1134.74 1314.70,1135.77 1315.70,1136.77 1316.70,1137.71 1317.70,1138.60 1318.70,1139.42 1319.70,1140.16 1320.70,1140.81 1321.70,1141.36 1322.70,1141.82 1323.70,1142.26 1324.70,1142.67 1325.70,1143.07 1326.70,1143.44 1327.70,1143.79 1328.70,1144.11 1329.70,1144.41 1330.70,1144.68 1331.70,1144.92 1332.70,1145.13 1333.70,1145.31 1334.70,1145.46 1335.70,1145.59 1336.70,1145.70 1337.70,1145.82 1338.70,1145.93 1339.70,1146.03 1340.70,1146.13 1341.70,1146.22 1342.70,1146.31 1343.70,1146.40 1344.70,1146.48 1345.70,1146.56 1346.70,1146.63 1347.70,1146.70 1348.70,1146.77 1349.70,1146.83 1350.70,1146.89 1351.70,1146.94 1352.70,1147.00 1353.70,1147.05 1354.70,1147.09 1355.70,1147.14 1356.70,1147.18 1357.70,1147.22 1358.70,1147.26 1359.70,1147.29 1360.70,1147.32 1361.70,1147.35 1362.70,1147.38 1363.70,1147.41 1364.70,1147.44 1365.70,1147.47 1366.70,1147.49 1367.70,1147.52 1368.70,1147.54 1369.70,1147.56 1370.70,1147.58 1371.70,1147.60 1372.70,1147.62 1373.70,1147.64 1374.70,1147.66 1375.70,1147.68 1376.70,1147.70 1377.70,1147.71 1378.70,1147.73 1379.70,1147.75 1380.70,1147.77 1381.70,1147.78 1382.70,1147.80 1383.70,1147.81 1384.70,1147.83 1385.70,1147.85 1386.70,1147.86 1387.70,1147.88 1388.70,1147.90 1389.70,1147.92 1390.70,1147.94 1391.70,1147.95 1392.70,1147.97 1393.70,1147.99" fill="none" stroke="#6e6e6e" stroke-width="3.6" stroke-linejoin="round" stroke-linecap="round" stroke-dasharray="9,6"/>
<polyline points="819.00,1131.69 820.00,1130.85 821.00,1130.91 822.00,1131.68 823.00,1130.37 824.00,1131.57 825.00,1130.97 826.00,1130.68 827.00,1131.18 828.00,1131.31 829.00,1130.69 830.00,1130.83 831.00,1131.24 832.00,1131.17 833.00,1130.74 834.00,1130.35 835.00,1130.22 836.00,1130.34 837.00,1130.90 838.00,1130.80 839.00,1130.63 840.00,1131.09 841.00,1130.25 842.00,1130.16 843.00,1130.11 844.00,1131.15 845.00,1129.23 846.00,1130.29 847.00,1130.32 848.00,1130.09 849.00,1131.12 850.00,1130.52 851.00,1130.29 852.00,1129.45 853.00,1130.06 854.00,1129.61 855.00,1129.76 856.00,1129.78 857.00,1129.42 858.00,1129.89 859.00,1130.32 860.00,1129.99 861.00,1129.56 862.00,1128.50 863.00,1129.87 864.00,1129.82 865.00,1129.17 866.00,1128.99 867.00,1129.48 868.00,1128.74 869.00,1129.45 870.00,1128.51 871.00,1128.54 872.00,1128.93 873.00,1128.19 874.00,1128.82 875.00,1129.02 876.00,1128.10 877.00,1129.11 878.00,1128.36 879.00,1128.83 880.00,1128.62 881.00,1128.25 882.00,1128.16 883.00,1127.55 884.00,1127.98 885.00,1127.89 886.00,1128.96 887.00,1128.62 888.00,1127.44 889.00,1128.40 890.00,1128.07 891.00,1127.73 892.00,1128.07 893.00,1128.17 894.00,1127.47 895.00,1127.55 896.00,1127.69 897.00,1127.09 898.00,1127.58 899.00,1127.39 900.00,1127.05 901.00,1126.91 902.00,1127.39 903.00,1127.59 904.00,1127.27 905.00,1126.65 906.00,1127.33 907.00,1126.99 908.00,1127.12 909.00,1127.32 910.00,1126.28 911.00,1126.57 912.00,1126.28 913.00,1126.08 914.00,1127.34 915.00,1126.76 916.00,1125.40 917.00,1126.34 918.00,1125.78 919.00,1126.47 920.00,1125.87 921.00,1125.65 922.00,1125.68 923.00,1125.68 924.00,1125.40 925.00,1125.17 926.00,1125.09 927.00,1125.27 928.00,1124.39 929.00,1124.79 930.00,1124.61 931.00,1124.32 932.00,1124.76 933.00,1123.69 934.00,1124.00 935.00,1123.65 936.00,1124.18 937.00,1123.58 938.00,1123.70 939.00,1123.74 940.00,1122.70 941.00,1123.54 942.00,1122.86 943.00,1122.98 944.00,1122.94 945.00,1123.26 946.00,1123.13 947.00,1123.51 948.00,1122.67 949.00,1122.27 950.00,1122.17 951.00,1122.62 952.00,1122.99 953.00,1122.32 954.00,1121.82 955.00,1122.16 956.00,1122.09 957.00,1121.93 958.00,1121.52 959.00,1120.64 960.00,1121.54 961.00,1122.25 962.00,1121.83 963.00,1120.66 964.00,1121.67 965.00,1120.78 966.00,1122.54 967.00,1121.68 968.00,1121.00 969.00,1121.92 970.00,1121.16 971.00,1121.77 972.00,1121.49 973.00,1120.91 974.00,1121.76 975.00,1120.81 976.00,1122.04 977.00,1121.43 978.00,1120.90 979.00,1120.52 980.00,1122.11 981.00,1122.02 982.00,1120.74 983.00,1122.09 984.00,1121.38 985.00,1121.19 986.00,1121.24 987.00,1121.15 988.00,1121.93 989.00,1121.32 990.00,1120.38 991.00,1122.20 992.00,1121.62 993.00,1120.69 994.00,1121.02 995.00,1120.75 996.00,1121.19 997.00,1121.33 998.00,1121.25 999.00,1120.84 1000.00,1120.73 1001.00,1121.49 1002.00,1121.03 1003.00,1122.11 1004.00,1120.66 1005.00,1121.39 1006.00,1121.02 1007.00,1120.63 1008.00,1121.60 1009.00,1120.99 1010.00,1120.50 1011.00,1120.74 1012.00,1121.34 1013.00,1120.26 1014.00,1121.45 1015.00,1121.09 1016.00,1120.61 1017.00,1121.34 1018.00,1121.49 1019.00,1120.92 1020.00,1120.68 1021.00,1121.41 1022.00,1121.18 1023.00,1119.96 1024.00,1120.19 1025.00,1120.06 1026.00,1119.83 1027.00,1119.17 1028.00,1120.12 1029.00,1119.56 1030.00,1119.37 1031.00,1119.78 1032.00,1118.64 1033.00,1118.65 1034.00,1118.57 1035.00,1118.00 1036.00,1117.90 1037.00,1118.05 1038.00,1117.43 1039.00,1117.79 1040.00,1116.55 1041.00,1116.72 1042.00,1115.69 1043.00,1116.03 1044.00,1115.48 1045.00,1116.18 1046.00,1115.63 1047.00,1115.25 1048.00,1115.62 1049.00,1115.18 1050.00,1114.59 1051.00,1113.68 1052.00,1113.09 1053.00,1113.54 1054.00,1113.17 1055.00,1112.83 1056.00,1112.80 1057.00,1111.98 1058.00,1113.27 1059.00,1111.85 1060.00,1111.90 1061.00,1112.31 1062.00,1111.10 1063.00,1112.12 1064.00,1111.96 1065.00,1111.20 1066.00,1110.67 1067.00,1110.79 1068.00,1109.98 1069.00,1111.35 1070.00,1110.56 1071.00,1110.03 1072.00,1109.80 1073.00,1110.34 1074.00,1110.63 1075.00,1109.17 1076.00,1109.36 1077.00,1108.66 1078.00,1109.69 1079.00,1109.32 1080.00,1110.20 1081.00,1108.97 1082.00,1108.72 1083.00,1108.49 1084.00,1109.13 1085.00,1107.86 1086.00,1108.89 1087.00,1108.55 1088.00,1108.08 1089.00,1107.78 1090.00,1108.59 1091.00,1108.85 1092.00,1107.63 1093.00,1107.94 1094.00,1108.36 1095.00,1107.08 1096.00,1107.07 1097.00,1106.41 1098.00,1106.71 1099.00,1106.48 1100.00,1106.00 1101.00,1105.46 1102.00,1104.63 1103.00,1104.26 1104.00,1103.90 1105.00,1104.09 1106.00,1102.93 1107.00,1102.12 1108.00,1102.16 1109.00,1101.41 1110.00,1100.06 1111.00,1099.37 1112.00,1099.22 1113.00,1098.29 1114.00,1096.83 1115.00,1096.35 1116.00,1095.14 1117.00,1094.51 1118.00,1092.33 1119.00,1091.87 1120.00,1090.09 1121.00,1088.69 1122.00,1087.26 1123.00,1085.79 1124.00,1084.31 1125.00,1082.82 1126.00,1081.33 1127.00,1079.85 1128.00,1078.39 1129.00,1076.96 1130.00,1075.57 1131.00,1074.22 1132.00,1072.93 1133.00,1071.70 1134.00,1070.47 1135.00,1069.16 1136.00,1067.79 1137.00,1066.38 1138.00,1064.94 1139.00,1063.48 1140.00,1062.01 1141.00,1060.56 1142.00,1059.13 1143.00,1057.74 1144.00,1056.40 1145.00,1055.13 1146.00,1053.94 1147.00,1052.85 1148.00,1051.86 1149.00,1051.00 1150.00,1050.27 1151.00,1049.69 1152.00,1049.28 1153.00,1049.05 1154.00,1049.01 1155.00,1049.10 1156.00,1049.29 1157.00,1049.58 1158.00,1049.97 1159.00,1050.43 1160.00,1050.96 1161.00,1051.56 1162.00,1052.20 1163.00,1052.90 1164.00,1053.63 1165.00,1054.39 1166.00,1055.17 1167.00,1055.96 1168.00,1056.75 1169.00,1057.53 1170.00,1058.31 1171.00,1059.05 1172.00,1059.77 1173.00,1060.44 1174.00,1061.07 1175.00,1061.65 1176.00,1062.28 1177.00,1062.94 1178.00,1063.63 1179.00,1064.34 1180.00,1065.07 1181.00,1065.81 1182.00,1066.54 1183.00,1067.27 1184.00,1067.99 1185.00,1068.68 1186.00,1069.34 1187.00,1069.97 1188.00,1070.55 1189.00,1071.07 1190.00,1071.54 1191.00,1071.94 1192.00,1072.26 1193.00,1072.50 1194.00,1072.65 1195.00,1072.70 1196.00,1072.61 1197.00,1072.35 1198.00,1071.93 1199.00,1071.36 1200.00,1070.66 1201.00,1069.84 1202.00,1068.92 1203.00,1067.91 1204.00,1066.81 1205.00,1065.66 1206.00,1064.45 1207.00,1063.20 1208.00,1061.93 1209.00,1060.64 1210.00,1059.33 1211.00,1057.83 1212.00,1056.13 1213.00,1054.24 1214.00,1052.18 1215.00,1049.96 1216.00,1047.60 1217.00,1045.10 1218.00,1042.50 1219.00,1039.79 1220.00,1036.99 1221.00,1034.13 1222.00,1031.21 1223.00,1028.17 1224.00,1024.94 1225.00,1021.43 1226.00,1017.57 1227.00,1013.29 1228.00,1008.51 1229.00,1002.80 1230.00,995.81 1231.00,987.82 1232.00,979.13 1233.00,970.05 1234.00,960.88 1235.00,951.92 1236.00,943.45 1237.00,935.16 1238.00,926.84 1239.00,918.49 1240.00,910.12 1241.00,901.76 1242.00,893.40 1243.00,885.05 1244.00,876.67 1245.00,868.28 1246.00,859.90 1247.00,851.56 1248.00,843.27 1249.00,835.05 1250.00,826.49 1251.00,817.71 1252.00,809.17 1253.00,801.28 1254.00,794.49 1255.00,788.53 1256.00,782.41 1257.00,776.54 1258.00,771.36 1259.00,767.31 1260.00,764.85 1261.00,764.37 1262.00,765.49 1263.00,767.86 1264.00,771.27 1265.00,775.54 1266.00,780.48 1267.00,785.88 1268.00,791.57 1269.00,798.14 1270.00,807.32 1271.00,818.23 1272.00,829.84 1273.00,841.29 1274.00,853.50 1275.00,866.38 1276.00,879.43 1277.00,892.14 1278.00,904.31 1279.00,916.27 1280.00,928.42 1281.00,941.12 1282.00,955.05 1283.00,970.67 1284.00,986.93 1285.00,1002.70 1286.00,1016.85 1287.00,1028.39 1288.00,1038.44 1289.00,1047.62 1290.00,1055.97 1291.00,1063.55 1292.00,1070.41 1293.00,1076.68 1294.00,1082.58 1295.00,1088.13 1296.00,1093.34 1297.00,1098.23 1298.00,1102.81 1299.00,1107.10 1300.00,1111.10 1301.00,1114.87 1302.00,1118.58 1303.00,1122.21 1304.00,1125.67 1305.00,1128.91 1306.00,1131.84 1307.00,1134.39 1308.00,1136.49 1309.00,1138.08 1310.00,1139.46 1311.00,1140.79 1312.00,1142.04 1313.00,1143.19 1314.00,1144.23 1315.00,1145.13 1316.00,1145.89 1317.00,1146.48 1318.00,1146.89 1319.00,1147.09 1320.00,1147.16 1321.00,1147.23 1322.00,1147.29 1323.00,1147.35 1324.00,1147.40 1325.00,1147.45 1326.00,1147.49 1327.00,1147.53 1328.00,1147.57 1329.00,1147.60 1330.00,1147.64 1331.00,1147.66 1332.00,1147.69 1333.00,1147.71 1334.00,1147.73 1335.00,1147.75 1336.00,1147.76 1337.00,1147.77 1338.00,1147.78 1339.00,1147.79 1340.00,1147.80 1341.00,1147.81 1342.00,1147.82 1343.00,1147.82 1344.00,1147.83 1345.00,1147.84 1346.00,1147.84 1347.00,1147.85 1348.00,1147.85 1349.00,1147.86 1350.00,1147.86 1351.00,1147.87 1352.00,1147.87 1353.00,1147.88 1354.00,1147.88 1355.00,1147.89 1356.00,1147.89 1357.00,1147.89 1358.00,1147.90 1359.00,1147.90 1360.00,1147.91 1361.00,1147.91 1362.00,1147.91 1363.00,1147.91 1364.00,1147.92 1365.00,1147.92 1366.00,1147.92 1367.00,1147.93 1368.00,1147.93 1369.00,1147.93 1370.00,1147.93 1371.00,1147.94 1372.00,1147.94 1373.00,1147.94 1374.00,1147.94 1375.00,1147.95 1376.00,1147.95 1377.00,1147.95 1378.00,1147.95 1379.00,1147.96 1380.00,1147.96 1381.00,1147.96 1382.00,1147.96 1383.00,1147.97 1384.00,1147.97 1385.00,1147.97 1386.00,1147.97 1387.00,1147.98 1388.00,1147.98 1389.00,1147.98 1390.00,1147.99 1391.00,1147.99 1392.00,1147.99 1393.00,1148.00" fill="none" stroke="#c81a1e" stroke-width="4.0" stroke-linejoin="round" stroke-linecap="round"/>
<rect x="817.20" y="706.70" width="579.60" height="4.00" fill="#000"/>
<rect x="817.20" y="1180.00" width="579.60" height="4.00" fill="#000"/>
<rect x="817.20" y="706.70" width="3.60" height="477.30" fill="#000"/>
<rect x="1393.20" y="706.70" width="3.60" height="477.30" fill="#000"/>
<rect x="912.00" y="1173.00" width="3.00" height="9.00" fill="#000"/>
<rect x="912.00" y="708.70" width="3.00" height="9.00" fill="#000"/>
<rect x="1008.50" y="1173.00" width="3.00" height="9.00" fill="#000"/>
<rect x="1008.50" y="708.70" width="3.00" height="9.00" fill="#000"/>
<rect x="1105.00" y="1173.00" width="3.00" height="9.00" fill="#000"/>
<rect x="1105.00" y="708.70" width="3.00" height="9.00" fill="#000"/>
<rect x="1201.50" y="1173.00" width="3.00" height="9.00" fill="#000"/>
<rect x="1201.50" y="708.70" width="3.00" height="9.00" fill="#000"/>
<rect x="1298.00" y="1173.00" width="3.00" height="9.00" fill="#000"/>
<rect x="1298.00" y="708.70" width="3.00" height="9.00" fill="#000"/>
<rect x="863.75" y="1177.50" width="3.00" height="4.50" fill="#000"/>
<rect x="863.75" y="708.70" width="3.00" height="4.50" fill="#000"/>
<rect x="960.25" y="1177.50" width="3.00" height="4.50" fill="#000"/>
<rect x="960.25" y="708.70" width="3.00" height="4.50" fill="#000"/>
<rect x="1056.75" y="1177.50" width="3.00" height="4.50" fill="#000"/>
<rect x="1056.75" y="708.70" width="3.00" height="4.50" fill="#000"/>
<rect x="1153.25" y="1177.50" width="3.00" height="4.50" fill="#000"/>
<rect x="1153.25" y="708.70" width="3.00" height="4.50" fill="#000"/>
<rect x="1249.75" y="1177.50" width="3.00" height="4.50" fill="#000"/>
<rect x="1249.75" y="708.70" width="3.00" height="4.50" fill="#000"/>
<rect x="1346.25" y="1177.50" width="3.00" height="4.50" fill="#000"/>
<rect x="1346.25" y="708.70" width="3.00" height="4.50" fill="#000"/>
<line x1="863.5" y1="747.2" x2="920.0" y2="747.2" stroke="#a0a0a0" stroke-width="3.6"/>
<text transform="translate(926.74,755.68) scale(1.0428,1)" font-size="22.46" font-weight="bold" stroke="#fff" stroke-width="0.22" fill="#000">C=C</text>
<line x1="863.5" y1="778.4" x2="920.0" y2="778.4" stroke="#3a70b8" stroke-width="3.6"/>
<text transform="translate(926.73,786.58) scale(1.0593,1)" font-size="22.32" font-weight="bold" stroke="#fff" stroke-width="0.22" fill="#000">C-C</text>
<line x1="863.5" y1="809.8" x2="920.0" y2="809.8" stroke="#4a9a6c" stroke-width="3.6"/>
<text transform="translate(926.72,817.48) scale(1.0754,1)" font-size="22.32" font-weight="bold" stroke="#fff" stroke-width="0.22" fill="#000">C-O</text>
<line x1="863.5" y1="840.7" x2="920.0" y2="840.7" stroke="#a67fd0" stroke-width="4.0"/>
<text transform="translate(926.71,848.38) scale(1.0816,1)" font-size="22.32" font-weight="bold" stroke="#fff" stroke-width="0.22" fill="#000">C=O</text>
<line x1="863.5" y1="871.3" x2="920.0" y2="871.3" stroke="#c49a2c" stroke-width="5.0"/>
<text transform="translate(926.72,880.16) scale(1.0149,1)" font-size="23.59" font-weight="bold" stroke="#fff" stroke-width="0.22" fill="#000">O=C-O</text>
<line x1="863.5" y1="902.6" x2="920.0" y2="902.6" stroke="#2ab4b4" stroke-width="5.0"/>
<text transform="translate(927.21,911.11) scale(1.2178,1)" font-size="19.34" font-weight="bold" stroke="#fff" stroke-width="0.22" fill="#000">π–π*</text>
<line x1="863.5" y1="933.1" x2="920.0" y2="933.1" stroke="#000" stroke-width="3.4"/>
<text transform="translate(926.07,942.32) scale(1.1013,1)" font-size="22.09" font-weight="bold" stroke="#fff" stroke-width="0.22" fill="#000">Background</text>
<line x1="863.5" y1="964.4" x2="920.0" y2="964.4" stroke="#c81a1e" stroke-width="3.8"/>
<text transform="translate(926.09,973.21) scale(1.0903,1)" font-size="22.08" font-weight="bold" stroke="#fff" stroke-width="0.22" fill="#000">Envelope</text>
<rect x="864.30" y="994.50" width="7.10" height="3.20" fill="#6e6e6e"/>
<rect x="884.90" y="994.50" width="7.90" height="3.20" fill="#6e6e6e"/>
<rect x="905.50" y="994.50" width="7.90" height="3.20" fill="#6e6e6e"/>
<g transform="translate(926.71,1004.57) scale(1.0555,1)" fill="#000">
<text font-size="22.92" font-weight="bold" stroke="#fff" stroke-width="0.22" xml:space="preserve">C  s</text>
<path transform="translate(22.916,0) scale(0.01119)" d="M854 0L573 0L573 -1059Q419 -915 210 -846L210 -1101Q320 -1137 449 -1237Q578 -1337 626 -1472L854 -1472Z" stroke="#fff" stroke-width="19.66"/>
</g>
<text transform="translate(800.24,685.49) scale(1.0005,1)" font-size="35.16" font-weight="bold" stroke="#fff" stroke-width="0.6" fill="#000">(d)</text>
<text transform="translate(1020.85,765.80) scale(0.9974,1)" font-size="36.05" stroke="#fff" stroke-width="0.5" fill="#000">EEG paper</text>
<text transform="translate(784.93,1226.99) scale(0.9633,1)" font-size="40.96" stroke="#fff" stroke-width="0.5" fill="#000">294</text>
<text transform="translate(881.40,1226.99) scale(0.9762,1)" font-size="40.96" stroke="#fff" stroke-width="0.5" fill="#000">292</text>
<text transform="translate(976.61,1226.99) scale(0.9694,1)" font-size="40.96" stroke="#fff" stroke-width="0.5" fill="#000">290</text>
<text transform="translate(1073.12,1226.99) scale(0.9657,1)" font-size="40.96" stroke="#fff" stroke-width="0.5" fill="#000">288</text>
<text transform="translate(1169.21,1226.99) scale(0.9725,1)" font-size="40.96" stroke="#fff" stroke-width="0.5" fill="#000">286</text>
<text transform="translate(1265.66,1226.99) scale(0.9449,1)" font-size="40.96" stroke="#fff" stroke-width="0.5" fill="#000">284</text>
<text transform="translate(1360.86,1226.99) scale(0.9949,1)" font-size="40.96" stroke="#fff" stroke-width="0.5" fill="#000">282</text>
<text transform="translate(910.70,1274.60) scale(0.9522,1)" font-size="46.08" stroke="#fff" stroke-width="0.5" fill="#000">Binding Energy (eV)</text>
<text transform="translate(784.30,1073.85) rotate(-90) scale(0.9815,1)" font-size="45.93" stroke="#fff" stroke-width="0.5" fill="#000">Intensity (a.u.)</text>
</svg>
</body></html>
